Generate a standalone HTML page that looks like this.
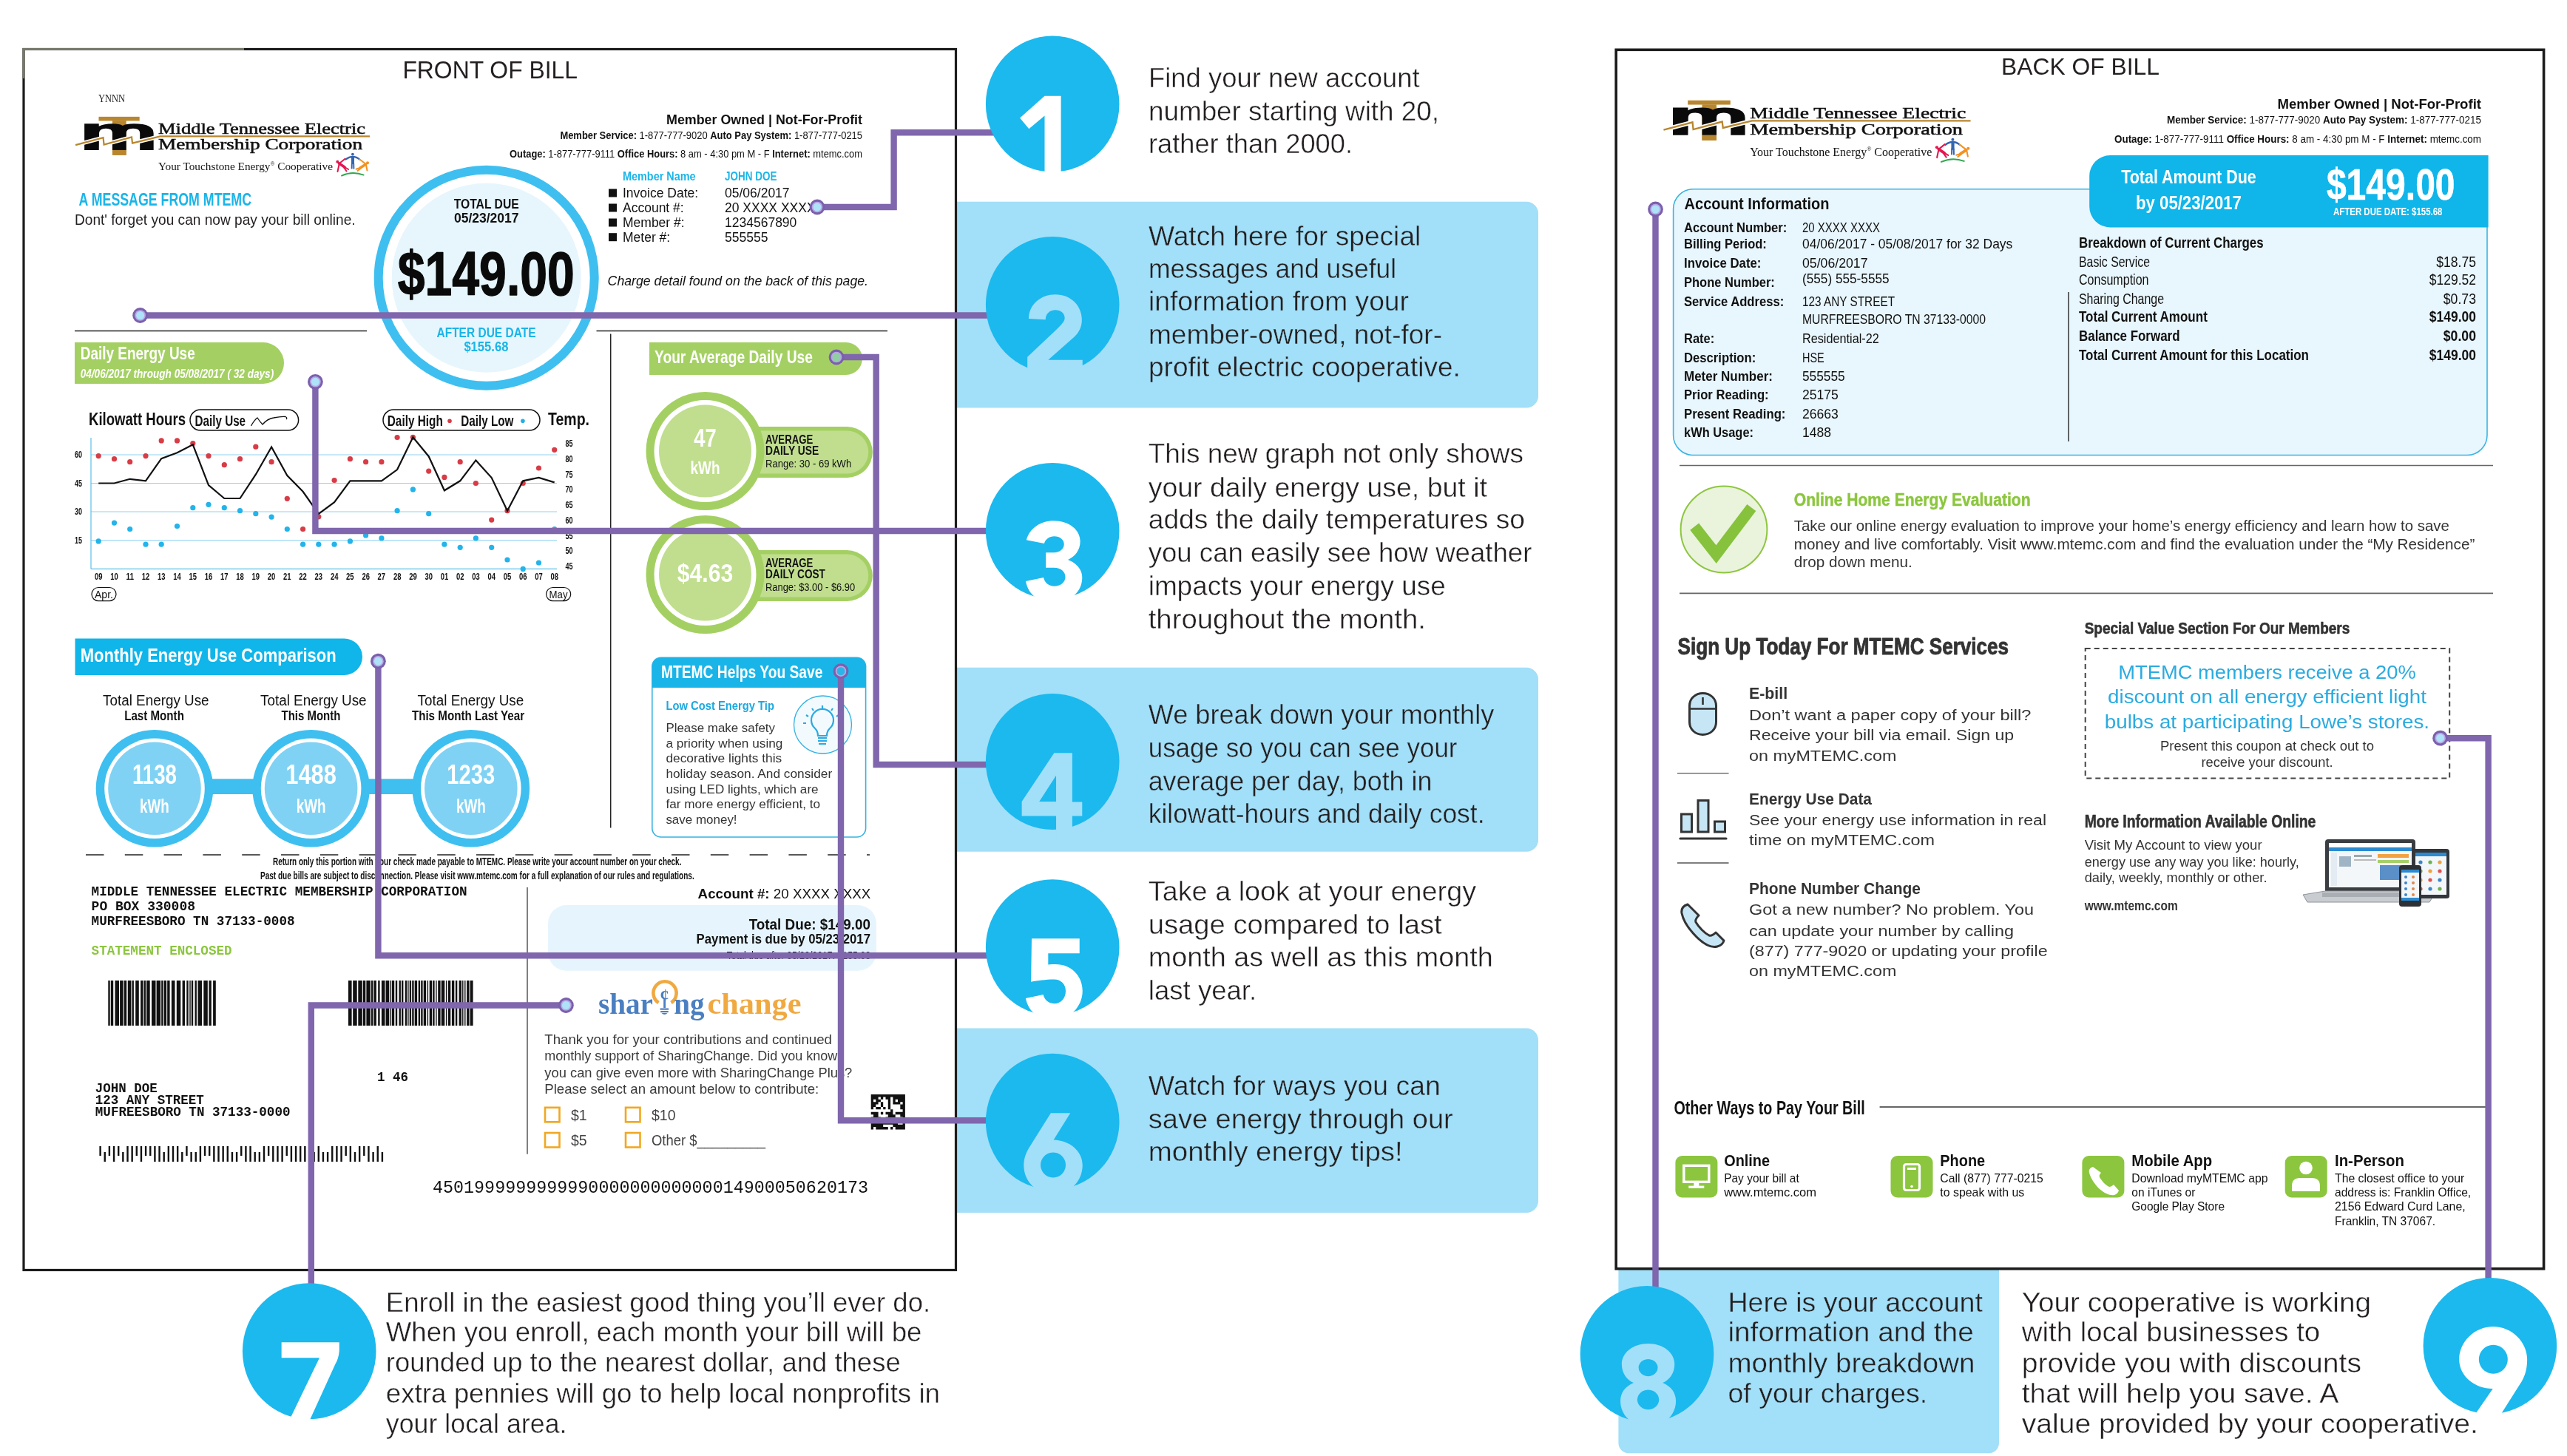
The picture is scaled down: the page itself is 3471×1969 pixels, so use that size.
<!DOCTYPE html><html><head><meta charset="utf-8"><title>Bill Guide</title><style>html,body{margin:0;padding:0;background:#fff;}svg{display:block;will-change:transform;}</style></head><body>
<svg width="3471" height="1969" viewBox="0 0 3471 1969">
<rect x="0.0" y="0.0" width="3471.0" height="1969.0" fill="#ffffff"/>
<path d="M1292.5,272.8 L2064.0,272.8 A16,16 0 0 1 2080.0,288.8 L2080.0,535.4 A16,16 0 0 1 2064.0,551.4 L1292.5,551.4 L1292.5,272.8 Z" fill="#a2dff8"/>
<path d="M1292.5,902.7 L2064.0,902.7 A16,16 0 0 1 2080.0,918.7 L2080.0,1135.7 A16,16 0 0 1 2064.0,1151.7 L1292.5,1151.7 L1292.5,902.7 Z" fill="#a2dff8"/>
<path d="M1292.5,1390.6 L2064.0,1390.6 A16,16 0 0 1 2080.0,1406.6 L2080.0,1624.0 A16,16 0 0 1 2064.0,1640.0 L1292.5,1640.0 L1292.5,1390.6 Z" fill="#a2dff8"/>
<path d="M2188.4,1700 L2691.0,1700 A12,12 0 0 1 2703.0,1712 L2703.0,1951.3 A14,14 0 0 1 2689.0,1965.3 L2202.4,1965.3 A14,14 0 0 1 2188.4,1951.3 L2188.4,1700 Z" fill="#a2dff8"/>
<text x="1553.0" y="118.3" font-family="'Liberation Sans', sans-serif" font-size="37.5" fill="#231f20" textLength="366.6" lengthAdjust="spacingAndGlyphs" stroke="#ffffff" stroke-width="0.45">Find your new account</text>
<text x="1553.0" y="162.8" font-family="'Liberation Sans', sans-serif" font-size="37.5" fill="#231f20" textLength="393.0" lengthAdjust="spacingAndGlyphs" stroke="#ffffff" stroke-width="0.45">number starting with 20,</text>
<text x="1553.0" y="207.3" font-family="'Liberation Sans', sans-serif" font-size="37.5" fill="#231f20" textLength="276.0" lengthAdjust="spacingAndGlyphs" stroke="#ffffff" stroke-width="0.45">rather than 2000.</text>
<text x="1553.0" y="331.7" font-family="'Liberation Sans', sans-serif" font-size="37.5" fill="#231f20" textLength="368.3" lengthAdjust="spacingAndGlyphs" stroke="#a2dff8" stroke-width="0.45">Watch here for special</text>
<text x="1553.0" y="375.8" font-family="'Liberation Sans', sans-serif" font-size="37.5" fill="#231f20" textLength="335.1" lengthAdjust="spacingAndGlyphs" stroke="#a2dff8" stroke-width="0.45">messages and useful</text>
<text x="1553.0" y="420.3" font-family="'Liberation Sans', sans-serif" font-size="37.5" fill="#231f20" textLength="352.0" lengthAdjust="spacingAndGlyphs" stroke="#a2dff8" stroke-width="0.45">information from your</text>
<text x="1553.0" y="464.8" font-family="'Liberation Sans', sans-serif" font-size="37.5" fill="#231f20" textLength="397.0" lengthAdjust="spacingAndGlyphs" stroke="#a2dff8" stroke-width="0.45">member-owned, not-for-</text>
<text x="1553.0" y="508.9" font-family="'Liberation Sans', sans-serif" font-size="37.5" fill="#231f20" textLength="421.8" lengthAdjust="spacingAndGlyphs" stroke="#a2dff8" stroke-width="0.45">profit electric cooperative.</text>
<text x="1552.7" y="626.0" font-family="'Liberation Sans', sans-serif" font-size="37.5" fill="#231f20" textLength="507.2" lengthAdjust="spacingAndGlyphs" stroke="#ffffff" stroke-width="0.45">This new graph not only shows</text>
<text x="1552.7" y="671.5" font-family="'Liberation Sans', sans-serif" font-size="37.5" fill="#231f20" textLength="458.2" lengthAdjust="spacingAndGlyphs" stroke="#ffffff" stroke-width="0.45">your daily energy use, but it</text>
<text x="1552.7" y="715.4" font-family="'Liberation Sans', sans-serif" font-size="37.5" fill="#231f20" textLength="509.3" lengthAdjust="spacingAndGlyphs" stroke="#ffffff" stroke-width="0.45">adds the daily temperatures so</text>
<text x="1552.7" y="760.0" font-family="'Liberation Sans', sans-serif" font-size="37.5" fill="#231f20" textLength="518.7" lengthAdjust="spacingAndGlyphs" stroke="#ffffff" stroke-width="0.45">you can easily see how weather</text>
<text x="1552.7" y="804.8" font-family="'Liberation Sans', sans-serif" font-size="37.5" fill="#231f20" textLength="402.0" lengthAdjust="spacingAndGlyphs" stroke="#ffffff" stroke-width="0.45">impacts your energy use</text>
<text x="1552.7" y="849.5" font-family="'Liberation Sans', sans-serif" font-size="37.5" fill="#231f20" textLength="375.2" lengthAdjust="spacingAndGlyphs" stroke="#ffffff" stroke-width="0.45">throughout the month.</text>
<text x="1552.7" y="979.3" font-family="'Liberation Sans', sans-serif" font-size="37.5" fill="#231f20" textLength="467.6" lengthAdjust="spacingAndGlyphs" stroke="#a2dff8" stroke-width="0.45">We break down your monthly</text>
<text x="1552.7" y="1024.0" font-family="'Liberation Sans', sans-serif" font-size="37.5" fill="#231f20" textLength="417.8" lengthAdjust="spacingAndGlyphs" stroke="#a2dff8" stroke-width="0.45">usage so you can see your</text>
<text x="1552.7" y="1068.7" font-family="'Liberation Sans', sans-serif" font-size="37.5" fill="#231f20" textLength="383.7" lengthAdjust="spacingAndGlyphs" stroke="#a2dff8" stroke-width="0.45">average per day, both in</text>
<text x="1552.7" y="1113.4" font-family="'Liberation Sans', sans-serif" font-size="37.5" fill="#231f20" textLength="454.8" lengthAdjust="spacingAndGlyphs" stroke="#a2dff8" stroke-width="0.45">kilowatt-hours and daily cost.</text>
<text x="1552.8" y="1218.0" font-family="'Liberation Sans', sans-serif" font-size="37.5" fill="#231f20" textLength="443.3" lengthAdjust="spacingAndGlyphs" stroke="#ffffff" stroke-width="0.45">Take a look at your energy</text>
<text x="1552.8" y="1262.6" font-family="'Liberation Sans', sans-serif" font-size="37.5" fill="#231f20" textLength="396.8" lengthAdjust="spacingAndGlyphs" stroke="#ffffff" stroke-width="0.45">usage compared to last</text>
<text x="1552.8" y="1306.7" font-family="'Liberation Sans', sans-serif" font-size="37.5" fill="#231f20" textLength="465.9" lengthAdjust="spacingAndGlyphs" stroke="#ffffff" stroke-width="0.45">month as well as this month</text>
<text x="1552.8" y="1352.0" font-family="'Liberation Sans', sans-serif" font-size="37.5" fill="#231f20" textLength="146.4" lengthAdjust="spacingAndGlyphs" stroke="#ffffff" stroke-width="0.45">last year.</text>
<text x="1552.8" y="1480.5" font-family="'Liberation Sans', sans-serif" font-size="37.5" fill="#231f20" textLength="394.9" lengthAdjust="spacingAndGlyphs" stroke="#a2dff8" stroke-width="0.45">Watch for ways you can</text>
<text x="1552.8" y="1525.8" font-family="'Liberation Sans', sans-serif" font-size="37.5" fill="#231f20" textLength="411.9" lengthAdjust="spacingAndGlyphs" stroke="#a2dff8" stroke-width="0.45">save energy through our</text>
<text x="1552.8" y="1570.0" font-family="'Liberation Sans', sans-serif" font-size="37.5" fill="#231f20" textLength="343.9" lengthAdjust="spacingAndGlyphs" stroke="#a2dff8" stroke-width="0.45">monthly energy tips!</text>
<text x="521.8" y="1773.5" font-family="'Liberation Sans', sans-serif" font-size="37.5" fill="#231f20" textLength="736.4" lengthAdjust="spacingAndGlyphs" stroke="#ffffff" stroke-width="0.45">Enroll in the easiest good thing you’ll ever do.</text>
<text x="521.8" y="1813.6" font-family="'Liberation Sans', sans-serif" font-size="37.5" fill="#231f20" textLength="724.7" lengthAdjust="spacingAndGlyphs" stroke="#ffffff" stroke-width="0.45">When you enroll, each month your bill will be</text>
<text x="521.8" y="1855.3" font-family="'Liberation Sans', sans-serif" font-size="37.5" fill="#231f20" textLength="695.9" lengthAdjust="spacingAndGlyphs" stroke="#ffffff" stroke-width="0.45">rounded up to the nearest dollar, and these</text>
<text x="521.8" y="1897.0" font-family="'Liberation Sans', sans-serif" font-size="37.5" fill="#231f20" textLength="749.2" lengthAdjust="spacingAndGlyphs" stroke="#ffffff" stroke-width="0.45">extra pennies will go to help local nonprofits in</text>
<text x="521.8" y="1938.3" font-family="'Liberation Sans', sans-serif" font-size="37.5" fill="#231f20" textLength="244.7" lengthAdjust="spacingAndGlyphs" stroke="#ffffff" stroke-width="0.45">your local area.</text>
<text x="2336.4" y="1773.7" font-family="'Liberation Sans', sans-serif" font-size="37.5" fill="#231f20" textLength="344.5" lengthAdjust="spacingAndGlyphs" stroke="#a2dff8" stroke-width="0.45">Here is your account</text>
<text x="2336.4" y="1814.2" font-family="'Liberation Sans', sans-serif" font-size="37.5" fill="#231f20" textLength="332.4" lengthAdjust="spacingAndGlyphs" stroke="#a2dff8" stroke-width="0.45">information and the</text>
<text x="2336.4" y="1856.3" font-family="'Liberation Sans', sans-serif" font-size="37.5" fill="#231f20" textLength="334.0" lengthAdjust="spacingAndGlyphs" stroke="#a2dff8" stroke-width="0.45">monthly breakdown</text>
<text x="2336.4" y="1896.8" font-family="'Liberation Sans', sans-serif" font-size="37.5" fill="#231f20" textLength="269.8" lengthAdjust="spacingAndGlyphs" stroke="#a2dff8" stroke-width="0.45">of your charges.</text>
<text x="2733.7" y="1773.7" font-family="'Liberation Sans', sans-serif" font-size="37.5" fill="#231f20" textLength="472.4" lengthAdjust="spacingAndGlyphs" stroke="#ffffff" stroke-width="0.45">Your cooperative is working</text>
<text x="2733.7" y="1814.2" font-family="'Liberation Sans', sans-serif" font-size="37.5" fill="#231f20" textLength="403.5" lengthAdjust="spacingAndGlyphs" stroke="#ffffff" stroke-width="0.45">with local businesses to</text>
<text x="2733.7" y="1856.3" font-family="'Liberation Sans', sans-serif" font-size="37.5" fill="#231f20" textLength="459.3" lengthAdjust="spacingAndGlyphs" stroke="#ffffff" stroke-width="0.45">provide you with discounts</text>
<text x="2733.7" y="1896.8" font-family="'Liberation Sans', sans-serif" font-size="37.5" fill="#231f20" textLength="428.7" lengthAdjust="spacingAndGlyphs" stroke="#ffffff" stroke-width="0.45">that will help you save. A</text>
<text x="2733.7" y="1937.9" font-family="'Liberation Sans', sans-serif" font-size="37.5" fill="#231f20" textLength="617.2" lengthAdjust="spacingAndGlyphs" stroke="#ffffff" stroke-width="0.45">value provided by your cooperative.</text>
<rect x="32.0" y="66.5" width="1260.5" height="1651.0" fill="none" stroke="#1c1c1c" stroke-width="3.2"/>
<line x1="31.0" y1="66.5" x2="330.0" y2="66.5" stroke="#77796c" stroke-width="3.2"/>
<line x1="32.0" y1="65.0" x2="32.0" y2="106.0" stroke="#77796c" stroke-width="3.2"/>
<text x="544.4" y="106.3" font-family="'Liberation Sans', sans-serif" font-size="33.5" fill="#231f20" textLength="236.6" lengthAdjust="spacingAndGlyphs">FRONT OF BILL</text>
<text x="133.0" y="137.5" font-family="'Liberation Serif', serif" font-size="14" fill="#222" textLength="36.0" lengthAdjust="spacingAndGlyphs">YNNN</text>
<g id="mtlogo"><rect x="133.48" y="157.85" width="55.19" height="5.57" fill="#b8862e"/><rect x="151.96" y="163.16" width="18.73" height="46.58" fill="#b8862e"/><path d="M114.14,167.22 L133.73,167.22 L133.73,170.76 Q140.57,167.22 151.71,167.22 Q162.34,167.22 165.89,170.00 Q169.94,167.22 181.08,167.22 Q207.66,167.22 207.66,180.38 L207.66,202.91 L189.18,202.91 L189.18,179.87 Q189.18,173.80 180.06,173.80 Q170.70,173.80 170.70,179.87 L170.70,202.91 L151.96,202.91 L151.96,179.87 Q151.96,173.80 143.10,173.80 Q134.49,173.80 133.99,179.87 L133.73,202.91 L114.14,202.91 Z" fill="#0a0a0a"/><path d="M102.09,196.08 L139.56,186.20 L140.57,195.57 L178.04,185.44 L179.05,193.54 L216.52,184.43 L500.06,184.43" fill="none" stroke="#fff" stroke-width="5.5" stroke-linejoin="miter"/><path d="M102.09,196.08 L139.56,186.20 L140.57,195.57 L178.04,185.44 L179.05,193.54 L216.52,184.43 L500.06,184.43" fill="none" stroke="#b8862e" stroke-width="2.2" stroke-linejoin="miter"/><rect x="151.96" y="202.91" width="18.73" height="6.84" fill="#b8862e"/><text x="214" y="181" font-family="'Liberation Serif', serif" font-size="21" fill="#111" stroke="#111" stroke-width="0.55" textLength="280" lengthAdjust="spacingAndGlyphs">Middle Tennessee Electric</text><text x="214" y="202.3" font-family="'Liberation Serif', serif" font-size="21" fill="#111" stroke="#111" stroke-width="0.55" textLength="276" lengthAdjust="spacingAndGlyphs">Membership Corporation</text><text x="214" y="229.6" font-family="'Liberation Serif', serif" font-size="15.5" fill="#111" textLength="236" lengthAdjust="spacingAndGlyphs">Your Touchstone Energy<tspan font-size="8" dy="-6">®</tspan><tspan dy="6"> Cooperative</tspan></text><circle cx="476.9" cy="208.6" r="1.9" fill="#3465b0"/><path d="M467.3,215.6 Q472,211.8 476.9,211.8 Q482,211.8 486.2,215.6" stroke="#3465b0" stroke-width="2.2" fill="none" stroke-linecap="round"/><rect x="475" y="211.5" width="4" height="10.5" fill="#3465b0"/><path d="M475.8,221 L475.6,227.6 M478.2,221 L478.4,227.8" stroke="#3465b0" stroke-width="1.9" fill="none" stroke-linecap="round"/><circle cx="456.3" cy="218.7" r="2" fill="#e3174f"/><path d="M458.5,221 L466,226" stroke="#e3174f" stroke-width="3.6" fill="none" stroke-linecap="round"/><path d="M466,226 L471,229 M465,226.5 L468.5,231.5 M459.5,220.5 L466.6,214.8 M458.5,222.5 L456.5,232" stroke="#e3174f" stroke-width="2" fill="none" stroke-linecap="round"/><circle cx="497" cy="220.2" r="2" fill="#f39220"/><path d="M494.5,222.2 L487,227" stroke="#f39220" stroke-width="3.6" fill="none" stroke-linecap="round"/><path d="M487,227 L481.5,228.8 M488,227.5 L483.5,231 M493.5,221 L486,215.3 M495,223 L496.5,230.5" stroke="#f39220" stroke-width="2" fill="none" stroke-linecap="round"/><path d="M462,237.6 Q476.5,231 491.6,236.6" stroke="#2fa84f" stroke-width="1.9" fill="none" stroke-linecap="round"/></g>
<text x="106.6" y="278.0" font-family="'Liberation Sans', sans-serif" font-size="23.5" fill="#1ab5e8" font-weight="bold" textLength="233.4" lengthAdjust="spacingAndGlyphs">A MESSAGE FROM MTEMC</text>
<text x="101.0" y="303.5" font-family="'Liberation Sans', sans-serif" font-size="20" fill="#231f20" textLength="379.6" lengthAdjust="spacingAndGlyphs">Dont' forget you can now pay your bill online.</text>
<text x="901.0" y="168.4" font-family="'Liberation Sans', sans-serif" font-size="18" fill="#111" font-weight="bold" textLength="265.0" lengthAdjust="spacingAndGlyphs">Member Owned | Not-For-Profit</text>
<text x="757.4" y="188.0" font-family="'Liberation Sans', sans-serif" font-size="14.8" fill="#111" textLength="408.6" lengthAdjust="spacingAndGlyphs"><tspan font-weight="bold">Member Service: </tspan><tspan font-weight="normal">1-877-777-9020 </tspan><tspan font-weight="bold">Auto Pay System: </tspan><tspan font-weight="normal">1-877-777-0215</tspan></text>
<text x="689.0" y="213.0" font-family="'Liberation Sans', sans-serif" font-size="14.8" fill="#111" textLength="477.0" lengthAdjust="spacingAndGlyphs"><tspan font-weight="bold">Outage: </tspan><tspan font-weight="normal">1-877-777-9111 </tspan><tspan font-weight="bold">Office Hours: </tspan><tspan font-weight="normal">8 am - 4:30 pm M - F </tspan><tspan font-weight="bold">Internet: </tspan><tspan font-weight="normal">mtemc.com</tspan></text>
<text x="842.0" y="244.0" font-family="'Liberation Sans', sans-serif" font-size="17" fill="#1ab5e8" font-weight="bold" textLength="98.5" lengthAdjust="spacingAndGlyphs">Member Name</text>
<text x="980.0" y="244.0" font-family="'Liberation Sans', sans-serif" font-size="17" fill="#1ab5e8" font-weight="bold" textLength="70.4" lengthAdjust="spacingAndGlyphs">JOHN DOE</text>
<rect x="823.0" y="255.5" width="11.0" height="11.0" fill="#111"/>
<text x="842.0" y="267.0" font-family="'Liberation Sans', sans-serif" font-size="17.5" fill="#111">Invoice Date:</text>
<text x="980.0" y="267.0" font-family="'Liberation Sans', sans-serif" font-size="17.5" fill="#111">05/06/2017</text>
<rect x="823.0" y="275.5" width="11.0" height="11.0" fill="#111"/>
<text x="842.0" y="287.0" font-family="'Liberation Sans', sans-serif" font-size="17.5" fill="#111">Account #:</text>
<text x="980.0" y="287.0" font-family="'Liberation Sans', sans-serif" font-size="17.5" fill="#111">20 XXXX XXXX</text>
<rect x="823.0" y="295.5" width="11.0" height="11.0" fill="#111"/>
<text x="842.0" y="307.0" font-family="'Liberation Sans', sans-serif" font-size="17.5" fill="#111">Member #:</text>
<text x="980.0" y="307.0" font-family="'Liberation Sans', sans-serif" font-size="17.5" fill="#111">1234567890</text>
<rect x="823.0" y="315.2" width="11.0" height="11.0" fill="#111"/>
<text x="842.0" y="326.7" font-family="'Liberation Sans', sans-serif" font-size="17.5" fill="#111">Meter #:</text>
<text x="980.0" y="326.7" font-family="'Liberation Sans', sans-serif" font-size="17.5" fill="#111">555555</text>
<text x="821.6" y="386.0" font-family="'Liberation Sans', sans-serif" font-size="19" fill="#111" font-style="italic" textLength="352.4" lengthAdjust="spacingAndGlyphs">Charge detail found on the back of this page.</text>
<line x1="101.0" y1="447.4" x2="496.0" y2="447.4" stroke="#222" stroke-width="1.5"/>
<line x1="806.5" y1="447.4" x2="1200.0" y2="447.4" stroke="#222" stroke-width="1.5"/>
<line x1="825.7" y1="451.5" x2="825.7" y2="1119.6" stroke="#222" stroke-width="1.5"/>
<circle cx="657.7" cy="375.7" r="146.0" fill="#ffffff" stroke="#3ebff0" stroke-width="12"/>
<circle cx="657.7" cy="375.7" r="128.0" fill="#e7f6fd"/>
<text x="613.7" y="282.0" font-family="'Liberation Sans', sans-serif" font-size="19" fill="#111" font-weight="bold" textLength="88.0" lengthAdjust="spacingAndGlyphs">TOTAL DUE</text>
<text x="613.9" y="301.0" font-family="'Liberation Sans', sans-serif" font-size="19" fill="#111" font-weight="bold" textLength="87.7" lengthAdjust="spacingAndGlyphs">05/23/2017</text>
<text x="537.8" y="398.6" font-family="'Liberation Sans', sans-serif" font-size="84" fill="#0a0a0a" font-weight="bold" textLength="239.0" lengthAdjust="spacingAndGlyphs" stroke="#0a0a0a" stroke-width="1.4" stroke-linejoin="round">$149.00</text>
<text x="590.5" y="456.4" font-family="'Liberation Sans', sans-serif" font-size="19" fill="#1ab5e8" font-weight="bold" textLength="134.0" lengthAdjust="spacingAndGlyphs">AFTER DUE DATE</text>
<text x="627.4" y="475.0" font-family="'Liberation Sans', sans-serif" font-size="19" fill="#1ab5e8" font-weight="bold" textLength="60.0" lengthAdjust="spacingAndGlyphs">$155.68</text>
<path d="M101,463 L356,463 A28,28 0 0 1 384,491 L384,491 A28,28 0 0 1 356,519 L101,519 Z" fill="#a4d063"/>
<text x="108.7" y="486.0" font-family="'Liberation Sans', sans-serif" font-size="23" fill="#fff" font-weight="bold" textLength="155.0" lengthAdjust="spacingAndGlyphs">Daily Energy Use</text>
<text x="108.7" y="510.5" font-family="'Liberation Sans', sans-serif" font-size="16.8" fill="#fff" font-weight="bold" font-style="italic" textLength="261.5" lengthAdjust="spacingAndGlyphs">04/06/2017 through 05/08/2017 ( 32 days)</text>
<text x="120.0" y="574.5" font-family="'Liberation Sans', sans-serif" font-size="23" fill="#111" font-weight="bold" textLength="131.0" lengthAdjust="spacingAndGlyphs">Kilowatt Hours</text>
<rect x="257.0" y="554.0" width="146.6" height="28.0" fill="none" stroke="#111" stroke-width="1.5" rx="14"/>
<text x="263.5" y="576.0" font-family="'Liberation Sans', sans-serif" font-size="19.5" fill="#111" font-weight="bold" textLength="68.6" lengthAdjust="spacingAndGlyphs">Daily Use</text>
<path d="M339.4,576 Q344,568 348,565 Q352,571 355,574 Q362,566 370,565 Q380,563 386,563.5 Q389,565 387,567" fill="none" stroke="#111" stroke-width="1.3"/>
<rect x="518.0" y="554.0" width="212.0" height="28.0" fill="none" stroke="#111" stroke-width="1.5" rx="14"/>
<text x="523.8" y="576.0" font-family="'Liberation Sans', sans-serif" font-size="19.5" fill="#111" font-weight="bold" textLength="75.0" lengthAdjust="spacingAndGlyphs">Daily High</text>
<circle cx="608.0" cy="569.3" r="2.8" fill="#d93a45"/>
<text x="623.3" y="576.0" font-family="'Liberation Sans', sans-serif" font-size="19.5" fill="#111" font-weight="bold" textLength="71.2" lengthAdjust="spacingAndGlyphs">Daily Low</text>
<circle cx="706.9" cy="569.3" r="2.8" fill="#1fb0e8"/>
<text x="741.0" y="574.5" font-family="'Liberation Sans', sans-serif" font-size="23" fill="#111" font-weight="bold" textLength="56.0" lengthAdjust="spacingAndGlyphs">Temp.</text>
<line x1="123.0" y1="615.0" x2="753.0" y2="615.0" stroke="#8fd3f2" stroke-width="1.1"/>
<line x1="123.0" y1="653.5" x2="753.0" y2="653.5" stroke="#8fd3f2" stroke-width="1.1"/>
<line x1="123.0" y1="692.0" x2="753.0" y2="692.0" stroke="#8fd3f2" stroke-width="1.1"/>
<line x1="123.0" y1="730.5" x2="753.0" y2="730.5" stroke="#8fd3f2" stroke-width="1.1"/>
<line x1="123.0" y1="592.0" x2="123.0" y2="769.4" stroke="#5cc0ea" stroke-width="1.2"/>
<line x1="123.0" y1="769.4" x2="753.0" y2="769.4" stroke="#5cc0ea" stroke-width="1.2"/>
<text x="101.0" y="619.0" font-family="'Liberation Sans', sans-serif" font-size="12" fill="#111" font-weight="bold" textLength="10.0" lengthAdjust="spacingAndGlyphs">60</text>
<text x="101.0" y="657.5" font-family="'Liberation Sans', sans-serif" font-size="12" fill="#111" font-weight="bold" textLength="10.0" lengthAdjust="spacingAndGlyphs">45</text>
<text x="101.0" y="696.0" font-family="'Liberation Sans', sans-serif" font-size="12" fill="#111" font-weight="bold" textLength="10.0" lengthAdjust="spacingAndGlyphs">30</text>
<text x="101.0" y="734.5" font-family="'Liberation Sans', sans-serif" font-size="12" fill="#111" font-weight="bold" textLength="10.0" lengthAdjust="spacingAndGlyphs">15</text>
<text x="764.5" y="604.0" font-family="'Liberation Sans', sans-serif" font-size="12" fill="#111" font-weight="bold" textLength="10.0" lengthAdjust="spacingAndGlyphs">85</text>
<text x="764.5" y="624.8" font-family="'Liberation Sans', sans-serif" font-size="12" fill="#111" font-weight="bold" textLength="10.0" lengthAdjust="spacingAndGlyphs">80</text>
<text x="764.5" y="645.5" font-family="'Liberation Sans', sans-serif" font-size="12" fill="#111" font-weight="bold" textLength="10.0" lengthAdjust="spacingAndGlyphs">75</text>
<text x="764.5" y="666.2" font-family="'Liberation Sans', sans-serif" font-size="12" fill="#111" font-weight="bold" textLength="10.0" lengthAdjust="spacingAndGlyphs">70</text>
<text x="764.5" y="687.0" font-family="'Liberation Sans', sans-serif" font-size="12" fill="#111" font-weight="bold" textLength="10.0" lengthAdjust="spacingAndGlyphs">65</text>
<text x="764.5" y="707.8" font-family="'Liberation Sans', sans-serif" font-size="12" fill="#111" font-weight="bold" textLength="10.0" lengthAdjust="spacingAndGlyphs">60</text>
<text x="764.5" y="728.5" font-family="'Liberation Sans', sans-serif" font-size="12" fill="#111" font-weight="bold" textLength="10.0" lengthAdjust="spacingAndGlyphs">55</text>
<text x="764.5" y="749.2" font-family="'Liberation Sans', sans-serif" font-size="12" fill="#111" font-weight="bold" textLength="10.0" lengthAdjust="spacingAndGlyphs">50</text>
<text x="764.5" y="770.0" font-family="'Liberation Sans', sans-serif" font-size="12" fill="#111" font-weight="bold" textLength="10.0" lengthAdjust="spacingAndGlyphs">45</text>
<text x="127.9" y="784.0" font-family="'Liberation Sans', sans-serif" font-size="12" fill="#111" font-weight="bold" textLength="10.5" lengthAdjust="spacingAndGlyphs">09</text>
<text x="149.2" y="784.0" font-family="'Liberation Sans', sans-serif" font-size="12" fill="#111" font-weight="bold" textLength="10.5" lengthAdjust="spacingAndGlyphs">10</text>
<text x="170.5" y="784.0" font-family="'Liberation Sans', sans-serif" font-size="12" fill="#111" font-weight="bold" textLength="10.5" lengthAdjust="spacingAndGlyphs">11</text>
<text x="191.7" y="784.0" font-family="'Liberation Sans', sans-serif" font-size="12" fill="#111" font-weight="bold" textLength="10.5" lengthAdjust="spacingAndGlyphs">12</text>
<text x="213.0" y="784.0" font-family="'Liberation Sans', sans-serif" font-size="12" fill="#111" font-weight="bold" textLength="10.5" lengthAdjust="spacingAndGlyphs">13</text>
<text x="234.2" y="784.0" font-family="'Liberation Sans', sans-serif" font-size="12" fill="#111" font-weight="bold" textLength="10.5" lengthAdjust="spacingAndGlyphs">14</text>
<text x="255.5" y="784.0" font-family="'Liberation Sans', sans-serif" font-size="12" fill="#111" font-weight="bold" textLength="10.5" lengthAdjust="spacingAndGlyphs">15</text>
<text x="276.8" y="784.0" font-family="'Liberation Sans', sans-serif" font-size="12" fill="#111" font-weight="bold" textLength="10.5" lengthAdjust="spacingAndGlyphs">16</text>
<text x="298.0" y="784.0" font-family="'Liberation Sans', sans-serif" font-size="12" fill="#111" font-weight="bold" textLength="10.5" lengthAdjust="spacingAndGlyphs">17</text>
<text x="319.3" y="784.0" font-family="'Liberation Sans', sans-serif" font-size="12" fill="#111" font-weight="bold" textLength="10.5" lengthAdjust="spacingAndGlyphs">18</text>
<text x="340.6" y="784.0" font-family="'Liberation Sans', sans-serif" font-size="12" fill="#111" font-weight="bold" textLength="10.5" lengthAdjust="spacingAndGlyphs">19</text>
<text x="361.8" y="784.0" font-family="'Liberation Sans', sans-serif" font-size="12" fill="#111" font-weight="bold" textLength="10.5" lengthAdjust="spacingAndGlyphs">20</text>
<text x="383.1" y="784.0" font-family="'Liberation Sans', sans-serif" font-size="12" fill="#111" font-weight="bold" textLength="10.5" lengthAdjust="spacingAndGlyphs">21</text>
<text x="404.3" y="784.0" font-family="'Liberation Sans', sans-serif" font-size="12" fill="#111" font-weight="bold" textLength="10.5" lengthAdjust="spacingAndGlyphs">22</text>
<text x="425.6" y="784.0" font-family="'Liberation Sans', sans-serif" font-size="12" fill="#111" font-weight="bold" textLength="10.5" lengthAdjust="spacingAndGlyphs">23</text>
<text x="446.9" y="784.0" font-family="'Liberation Sans', sans-serif" font-size="12" fill="#111" font-weight="bold" textLength="10.5" lengthAdjust="spacingAndGlyphs">24</text>
<text x="468.1" y="784.0" font-family="'Liberation Sans', sans-serif" font-size="12" fill="#111" font-weight="bold" textLength="10.5" lengthAdjust="spacingAndGlyphs">25</text>
<text x="489.4" y="784.0" font-family="'Liberation Sans', sans-serif" font-size="12" fill="#111" font-weight="bold" textLength="10.5" lengthAdjust="spacingAndGlyphs">26</text>
<text x="510.6" y="784.0" font-family="'Liberation Sans', sans-serif" font-size="12" fill="#111" font-weight="bold" textLength="10.5" lengthAdjust="spacingAndGlyphs">27</text>
<text x="531.9" y="784.0" font-family="'Liberation Sans', sans-serif" font-size="12" fill="#111" font-weight="bold" textLength="10.5" lengthAdjust="spacingAndGlyphs">28</text>
<text x="553.2" y="784.0" font-family="'Liberation Sans', sans-serif" font-size="12" fill="#111" font-weight="bold" textLength="10.5" lengthAdjust="spacingAndGlyphs">29</text>
<text x="574.4" y="784.0" font-family="'Liberation Sans', sans-serif" font-size="12" fill="#111" font-weight="bold" textLength="10.5" lengthAdjust="spacingAndGlyphs">30</text>
<text x="595.7" y="784.0" font-family="'Liberation Sans', sans-serif" font-size="12" fill="#111" font-weight="bold" textLength="10.5" lengthAdjust="spacingAndGlyphs">01</text>
<text x="616.9" y="784.0" font-family="'Liberation Sans', sans-serif" font-size="12" fill="#111" font-weight="bold" textLength="10.5" lengthAdjust="spacingAndGlyphs">02</text>
<text x="638.2" y="784.0" font-family="'Liberation Sans', sans-serif" font-size="12" fill="#111" font-weight="bold" textLength="10.5" lengthAdjust="spacingAndGlyphs">03</text>
<text x="659.5" y="784.0" font-family="'Liberation Sans', sans-serif" font-size="12" fill="#111" font-weight="bold" textLength="10.5" lengthAdjust="spacingAndGlyphs">04</text>
<text x="680.7" y="784.0" font-family="'Liberation Sans', sans-serif" font-size="12" fill="#111" font-weight="bold" textLength="10.5" lengthAdjust="spacingAndGlyphs">05</text>
<text x="702.0" y="784.0" font-family="'Liberation Sans', sans-serif" font-size="12" fill="#111" font-weight="bold" textLength="10.5" lengthAdjust="spacingAndGlyphs">06</text>
<text x="723.2" y="784.0" font-family="'Liberation Sans', sans-serif" font-size="12" fill="#111" font-weight="bold" textLength="10.5" lengthAdjust="spacingAndGlyphs">07</text>
<text x="744.5" y="784.0" font-family="'Liberation Sans', sans-serif" font-size="12" fill="#111" font-weight="bold" textLength="10.5" lengthAdjust="spacingAndGlyphs">08</text>
<rect x="124.0" y="794.5" width="33.0" height="18.1" fill="none" stroke="#111" stroke-width="1.2" rx="9"/>
<text x="128.0" y="808.5" font-family="'Liberation Sans', sans-serif" font-size="14" fill="#111" textLength="25.0" lengthAdjust="spacingAndGlyphs">Apr.</text>
<rect x="738.6" y="794.5" width="33.1" height="18.1" fill="none" stroke="#111" stroke-width="1.2" rx="9"/>
<text x="742.6" y="808.5" font-family="'Liberation Sans', sans-serif" font-size="14" fill="#111" textLength="25.0" lengthAdjust="spacingAndGlyphs">May</text>
<circle cx="133.2" cy="616.6" r="3.6" fill="#d83c46"/>
<circle cx="133.2" cy="731.9" r="3.6" fill="#22b4ea"/>
<circle cx="154.5" cy="620.7" r="3.6" fill="#d83c46"/>
<circle cx="154.5" cy="707.1" r="3.6" fill="#22b4ea"/>
<circle cx="175.7" cy="624.7" r="3.6" fill="#d83c46"/>
<circle cx="175.7" cy="715.5" r="3.6" fill="#22b4ea"/>
<circle cx="197.0" cy="616.6" r="3.6" fill="#d83c46"/>
<circle cx="197.0" cy="736.2" r="3.6" fill="#22b4ea"/>
<circle cx="218.2" cy="595.9" r="3.6" fill="#d83c46"/>
<circle cx="218.2" cy="736.2" r="3.6" fill="#22b4ea"/>
<circle cx="239.5" cy="595.9" r="3.6" fill="#d83c46"/>
<circle cx="239.5" cy="711.5" r="3.6" fill="#22b4ea"/>
<circle cx="260.8" cy="599.6" r="3.6" fill="#d83c46"/>
<circle cx="260.8" cy="686.7" r="3.6" fill="#22b4ea"/>
<circle cx="282.0" cy="616.6" r="3.6" fill="#d83c46"/>
<circle cx="282.0" cy="682.3" r="3.6" fill="#22b4ea"/>
<circle cx="303.3" cy="628.7" r="3.6" fill="#d83c46"/>
<circle cx="303.3" cy="686.7" r="3.6" fill="#22b4ea"/>
<circle cx="324.5" cy="620.7" r="3.6" fill="#d83c46"/>
<circle cx="324.5" cy="690.7" r="3.6" fill="#22b4ea"/>
<circle cx="345.8" cy="604.2" r="3.6" fill="#d83c46"/>
<circle cx="345.8" cy="694.7" r="3.6" fill="#22b4ea"/>
<circle cx="367.1" cy="624.7" r="3.6" fill="#d83c46"/>
<circle cx="367.1" cy="699.1" r="3.6" fill="#22b4ea"/>
<circle cx="388.3" cy="674.3" r="3.6" fill="#d83c46"/>
<circle cx="388.3" cy="715.5" r="3.6" fill="#22b4ea"/>
<circle cx="409.6" cy="715.5" r="3.6" fill="#d83c46"/>
<circle cx="409.6" cy="736.2" r="3.6" fill="#22b4ea"/>
<circle cx="430.8" cy="698.8" r="3.6" fill="#d83c46"/>
<circle cx="430.8" cy="736.2" r="3.6" fill="#22b4ea"/>
<circle cx="452.1" cy="649.5" r="3.6" fill="#d83c46"/>
<circle cx="452.1" cy="736.2" r="3.6" fill="#22b4ea"/>
<circle cx="473.4" cy="620.7" r="3.6" fill="#d83c46"/>
<circle cx="473.4" cy="731.9" r="3.6" fill="#22b4ea"/>
<circle cx="494.6" cy="624.7" r="3.6" fill="#d83c46"/>
<circle cx="494.6" cy="723.9" r="3.6" fill="#22b4ea"/>
<circle cx="515.9" cy="624.7" r="3.6" fill="#d83c46"/>
<circle cx="515.9" cy="727.9" r="3.6" fill="#22b4ea"/>
<circle cx="537.1" cy="591.5" r="3.6" fill="#d83c46"/>
<circle cx="537.1" cy="690.7" r="3.6" fill="#22b4ea"/>
<circle cx="558.4" cy="591.3" r="3.6" fill="#d83c46"/>
<circle cx="558.4" cy="661.9" r="3.6" fill="#22b4ea"/>
<circle cx="579.7" cy="637.1" r="3.6" fill="#d83c46"/>
<circle cx="579.7" cy="694.7" r="3.6" fill="#22b4ea"/>
<circle cx="600.9" cy="645.4" r="3.6" fill="#d83c46"/>
<circle cx="600.9" cy="736.2" r="3.6" fill="#22b4ea"/>
<circle cx="622.2" cy="624.7" r="3.6" fill="#d83c46"/>
<circle cx="622.2" cy="740.3" r="3.6" fill="#22b4ea"/>
<circle cx="643.4" cy="653.5" r="3.6" fill="#d83c46"/>
<circle cx="643.4" cy="727.9" r="3.6" fill="#22b4ea"/>
<circle cx="664.7" cy="703.1" r="3.6" fill="#d83c46"/>
<circle cx="664.7" cy="740.3" r="3.6" fill="#22b4ea"/>
<circle cx="686.0" cy="690.7" r="3.6" fill="#d83c46"/>
<circle cx="686.0" cy="757.0" r="3.6" fill="#22b4ea"/>
<circle cx="707.2" cy="653.5" r="3.6" fill="#d83c46"/>
<circle cx="707.2" cy="769.4" r="3.6" fill="#22b4ea"/>
<circle cx="728.5" cy="633.0" r="3.6" fill="#d83c46"/>
<circle cx="728.5" cy="761.0" r="3.6" fill="#22b4ea"/>
<circle cx="749.7" cy="608.3" r="3.6" fill="#d83c46"/>
<circle cx="749.7" cy="715.5" r="3.6" fill="#22b4ea"/>
<polyline points="133.2,653.5 154.5,653.5 175.7,647.8 197.0,650.3 218.2,620.1 239.5,612.3 260.8,601.3 282.0,656.1 303.3,674.0 324.5,674.0 345.8,641.7 367.1,604.5 388.3,643.1 409.6,664.8 430.8,695.0 452.1,679.2 473.4,650.3 494.6,650.3 515.9,650.3 537.1,635.1 558.4,591.3 579.7,617.2 600.9,663.3 622.2,650.3 643.4,622.4 664.7,646.0 686.0,690.7 707.2,650.3 728.5,646.0 749.7,652.4" fill="none" stroke="#111" stroke-width="2.2" stroke-linejoin="miter"/>
<path d="M878,463 L1144,463 A22,22 0 0 1 1166,485 L1166,485 A22,22 0 0 1 1144,507 L878,507 Z" fill="#a4d063"/>
<text x="885.0" y="491.0" font-family="'Liberation Sans', sans-serif" font-size="24.4" fill="#fff" font-weight="bold" textLength="214.0" lengthAdjust="spacingAndGlyphs">Your Average Daily Use</text>
<path d="M960,577 L1145.3,577 A34.5,34.5 0 0 1 1179.8,611.5 L1179.8,611.5 A34.5,34.5 0 0 1 1145.3,646 L960,646 L960,577 Z" fill="#a4d063"/>
<path d="M960,582.5 L1145.3,582.5 A29,29 0 0 1 1174.3,611.5 L1174.3,611.5 A29,29 0 0 1 1145.3,640.5 L960,640.5 L960,582.5 Z" fill="#c0de8e"/>
<circle cx="953.5" cy="610.0" r="80.0" fill="#a4d063"/>
<circle cx="953.5" cy="610.0" r="69.0" fill="#ffffff"/>
<circle cx="953.5" cy="610.0" r="62.5" fill="#c0de8e"/>
<text x="938.3" y="604.0" font-family="'Liberation Sans', sans-serif" font-size="35" fill="#fff" font-weight="bold" textLength="30.4" lengthAdjust="spacingAndGlyphs">47</text>
<text x="933.5" y="640.5" font-family="'Liberation Sans', sans-serif" font-size="23.5" fill="#fff" font-weight="bold" textLength="40.0" lengthAdjust="spacingAndGlyphs">kWh</text>
<text x="1035.0" y="600.0" font-family="'Liberation Sans', sans-serif" font-size="16.2" fill="#111" font-weight="bold" textLength="64.3" lengthAdjust="spacingAndGlyphs">AVERAGE</text>
<text x="1035.0" y="615.2" font-family="'Liberation Sans', sans-serif" font-size="16.2" fill="#111" font-weight="bold" textLength="72.2" lengthAdjust="spacingAndGlyphs">DAILY USE</text>
<text x="1035.0" y="631.6" font-family="'Liberation Sans', sans-serif" font-size="15.2" fill="#111" textLength="116.2" lengthAdjust="spacingAndGlyphs">Range: 30 - 69 kWh</text>
<path d="M960,744 L1145.3,744 A34.5,34.5 0 0 1 1179.8,778.5 L1179.8,778.5 A34.5,34.5 0 0 1 1145.3,813 L960,813 L960,744 Z" fill="#a4d063"/>
<path d="M960,749.5 L1145.3,749.5 A29,29 0 0 1 1174.3,778.5 L1174.3,778.5 A29,29 0 0 1 1145.3,807.5 L960,807.5 L960,749.5 Z" fill="#c0de8e"/>
<circle cx="953.5" cy="777.0" r="80.0" fill="#a4d063"/>
<circle cx="953.5" cy="777.0" r="69.0" fill="#ffffff"/>
<circle cx="953.5" cy="777.0" r="62.5" fill="#c0de8e"/>
<text x="915.8" y="786.8" font-family="'Liberation Sans', sans-serif" font-size="35" fill="#fff" font-weight="bold" textLength="75.4" lengthAdjust="spacingAndGlyphs">$4.63</text>
<text x="1035.0" y="767.0" font-family="'Liberation Sans', sans-serif" font-size="16.2" fill="#111" font-weight="bold" textLength="64.3" lengthAdjust="spacingAndGlyphs">AVERAGE</text>
<text x="1035.0" y="782.2" font-family="'Liberation Sans', sans-serif" font-size="16.2" fill="#111" font-weight="bold" textLength="80.9" lengthAdjust="spacingAndGlyphs">DAILY COST</text>
<text x="1035.0" y="798.6" font-family="'Liberation Sans', sans-serif" font-size="15.2" fill="#111" textLength="121.2" lengthAdjust="spacingAndGlyphs">Range: $3.00 - $6.90</text>
<path d="M101.5,863.6 L465.3,863.6 A24.7,24.7 0 0 1 490.0,888.3000000000001 L490.0,888.3 A24.7,24.7 0 0 1 465.3,913.0 L101.5,913.0 Z" fill="#10b5ea"/>
<text x="108.7" y="894.8" font-family="'Liberation Sans', sans-serif" font-size="26" fill="#fff" font-weight="bold" textLength="346.0" lengthAdjust="spacingAndGlyphs">Monthly Energy Use Comparison</text>
<rect x="209.0" y="1053.3" width="427.8" height="20.7" fill="#3ebff0"/>
<circle cx="209.0" cy="1066.3" r="79.3" fill="#3ebff0"/>
<circle cx="209.0" cy="1066.3" r="67.8" fill="#ffffff"/>
<circle cx="209.0" cy="1066.3" r="62.8" fill="#80d2f4"/>
<text x="179.0" y="1059.7" font-family="'Liberation Sans', sans-serif" font-size="37.7" fill="#fff" font-weight="bold" textLength="60.0" lengthAdjust="spacingAndGlyphs">1138</text>
<text x="189.1" y="1098.6" font-family="'Liberation Sans', sans-serif" font-size="25" fill="#fff" font-weight="bold" textLength="39.8" lengthAdjust="spacingAndGlyphs">kWh</text>
<text x="139.0" y="953.9" font-family="'Liberation Sans', sans-serif" font-size="20" fill="#111" textLength="143.6" lengthAdjust="spacingAndGlyphs">Total Energy Use</text>
<text x="168.2" y="974.0" font-family="'Liberation Sans', sans-serif" font-size="18.5" fill="#111" font-weight="bold" textLength="80.7" lengthAdjust="spacingAndGlyphs">Last Month</text>
<circle cx="420.6" cy="1066.3" r="79.3" fill="#3ebff0"/>
<circle cx="420.6" cy="1066.3" r="67.8" fill="#ffffff"/>
<circle cx="420.6" cy="1066.3" r="62.8" fill="#80d2f4"/>
<text x="386.3" y="1059.7" font-family="'Liberation Sans', sans-serif" font-size="37.7" fill="#fff" font-weight="bold" textLength="68.6" lengthAdjust="spacingAndGlyphs">1488</text>
<text x="400.7" y="1098.6" font-family="'Liberation Sans', sans-serif" font-size="25" fill="#fff" font-weight="bold" textLength="39.8" lengthAdjust="spacingAndGlyphs">kWh</text>
<text x="352.0" y="953.9" font-family="'Liberation Sans', sans-serif" font-size="20" fill="#111" textLength="143.6" lengthAdjust="spacingAndGlyphs">Total Energy Use</text>
<text x="380.5" y="974.0" font-family="'Liberation Sans', sans-serif" font-size="18.5" fill="#111" font-weight="bold" textLength="79.8" lengthAdjust="spacingAndGlyphs">This Month</text>
<circle cx="636.8" cy="1066.3" r="79.3" fill="#3ebff0"/>
<circle cx="636.8" cy="1066.3" r="67.8" fill="#ffffff"/>
<circle cx="636.8" cy="1066.3" r="62.8" fill="#80d2f4"/>
<text x="604.3" y="1059.7" font-family="'Liberation Sans', sans-serif" font-size="37.7" fill="#fff" font-weight="bold" textLength="64.9" lengthAdjust="spacingAndGlyphs">1233</text>
<text x="616.9" y="1098.6" font-family="'Liberation Sans', sans-serif" font-size="25" fill="#fff" font-weight="bold" textLength="39.8" lengthAdjust="spacingAndGlyphs">kWh</text>
<text x="564.6" y="953.9" font-family="'Liberation Sans', sans-serif" font-size="20" fill="#111" textLength="143.6" lengthAdjust="spacingAndGlyphs">Total Energy Use</text>
<text x="556.9" y="974.0" font-family="'Liberation Sans', sans-serif" font-size="18.5" fill="#111" font-weight="bold" textLength="152.2" lengthAdjust="spacingAndGlyphs">This Month Last Year</text>
<line x1="116.0" y1="1156.0" x2="1176.0" y2="1156.0" stroke="#222" stroke-width="1.5" stroke-dasharray="24.5 28.3"/>
<text x="369.0" y="1170.0" font-family="'Liberation Sans', sans-serif" font-size="14.5" fill="#111" font-weight="bold" textLength="552.4" lengthAdjust="spacingAndGlyphs">Return only this portion with your check made payable to MTEMC. Please write your account number on your check.</text>
<text x="352.0" y="1188.8" font-family="'Liberation Sans', sans-serif" font-size="14.5" fill="#111" font-weight="bold" textLength="586.7" lengthAdjust="spacingAndGlyphs">Past due bills are subject to disconnection. Please visit www.mtemc.com for a full explanation of our rules and regulations.</text>
<path d="M893.8,889.2 L1158.6,889.2 A12,12 0 0 1 1170.6,901.2 L1170.6,1120.0 A12,12 0 0 1 1158.6,1132.0 L893.8,1132.0 A12,12 0 0 1 881.8,1120.0 L881.8,901.2 A12,12 0 0 1 893.8,889.2 Z" fill="#ffffff" stroke="#35b2e2" stroke-width="1.6"/>
<path d="M893.8,889.2 L1158.6,889.2 A12,12 0 0 1 1170.6,901.2 L1170.6,930.0 L881.8,930.0 L881.8,901.2 A12,12 0 0 1 893.8,889.2 Z" fill="#1ab5e8"/>
<text x="894.0" y="917.4" font-family="'Liberation Sans', sans-serif" font-size="23" fill="#fff" font-weight="bold" textLength="218.4" lengthAdjust="spacingAndGlyphs">MTEMC Helps You Save</text>
<text x="900.4" y="960.0" font-family="'Liberation Sans', sans-serif" font-size="17.3" fill="#1ba9e0" font-weight="bold" textLength="146.6" lengthAdjust="spacingAndGlyphs">Low Cost Energy Tip</text>
<text x="900.4" y="989.8" font-family="'Liberation Sans', sans-serif" font-size="16.3" fill="#333" textLength="147.6" lengthAdjust="spacingAndGlyphs">Please make safety</text>
<text x="900.4" y="1010.8" font-family="'Liberation Sans', sans-serif" font-size="16.3" fill="#333" textLength="158.0" lengthAdjust="spacingAndGlyphs">a priority when using</text>
<text x="900.4" y="1031.4" font-family="'Liberation Sans', sans-serif" font-size="16.3" fill="#333" textLength="156.8" lengthAdjust="spacingAndGlyphs">decorative lights this</text>
<text x="900.4" y="1051.9" font-family="'Liberation Sans', sans-serif" font-size="16.3" fill="#333" textLength="224.8" lengthAdjust="spacingAndGlyphs">holiday season. And consider</text>
<text x="900.4" y="1072.7" font-family="'Liberation Sans', sans-serif" font-size="16.3" fill="#333" textLength="206.2" lengthAdjust="spacingAndGlyphs">using LED lights, which are</text>
<text x="900.4" y="1093.2" font-family="'Liberation Sans', sans-serif" font-size="16.3" fill="#333" textLength="208.7" lengthAdjust="spacingAndGlyphs">far more energy efficient, to</text>
<text x="900.4" y="1114.0" font-family="'Liberation Sans', sans-serif" font-size="16.3" fill="#333" textLength="96.2" lengthAdjust="spacingAndGlyphs">save money!</text>
<circle cx="1112.5" cy="980.0" r="39.0" fill="#f3fafd" stroke="#35b2e2" stroke-width="1.3"/>
<path d="M1112,985 m-10,0 a15,15 0 1 1 20,0 q-4,4 -4,10 l-12,0 q0,-6 -4,-10 z" fill="none" stroke="#29abe2" stroke-width="2.2"/>
<path d="M1106,998 l12,0 M1106,1002 l12,0 M1107,1006 l10,0" fill="none" stroke="#29abe2" stroke-width="2.2"/>
<path d="M1112,958 l0,-4 M1100,961 l-2,-3 M1124,961 l2,-3 M1093,969 l-3,-2 M1131,969 l3,-2 M1090,978 l-4,0" fill="none" stroke="#29abe2" stroke-width="2.2"/>
<text x="943.6" y="1214.8" font-family="'Liberation Sans', sans-serif" font-size="17.5" fill="#111" textLength="233.7" lengthAdjust="spacingAndGlyphs"><tspan font-weight="bold">Account #: </tspan><tspan font-weight="normal">20 XXXX XXXX</tspan></text>
<path d="M766,1224 L1160,1224 A25,25 0 0 1 1185,1249 L1185,1287.7 A25,25 0 0 1 1160,1312.7 L766,1312.7 A25,25 0 0 1 741,1287.7 L741,1249 A25,25 0 0 1 766,1224 Z" fill="#e6f5fd"/>
<text x="1012.7" y="1256.8" font-family="'Liberation Sans', sans-serif" font-size="21" fill="#111" font-weight="bold" textLength="164.3" lengthAdjust="spacingAndGlyphs">Total Due: $149.00</text>
<text x="941.6" y="1276.4" font-family="'Liberation Sans', sans-serif" font-size="18" fill="#111" font-weight="bold" textLength="235.4" lengthAdjust="spacingAndGlyphs">Payment is due by 05/23/2017</text>
<text x="982.7" y="1297.0" font-family="'Liberation Sans', sans-serif" font-size="14" fill="#111" textLength="194.3" lengthAdjust="spacingAndGlyphs">Total due after 05/23/2017: $155.68</text>
<text x="809.0" y="1371.4" font-family="'Liberation Serif', serif" font-size="40" fill="#4a7fc1" font-weight="bold" textLength="74.0" lengthAdjust="spacingAndGlyphs">shar</text>
<path d="M890.5,1356 A15.6,15.6 0 1 1 907.5,1356" fill="none" stroke="#f0a941" stroke-width="4.6"/>
<text x="898.6" y="1353.0" font-family="'Liberation Serif', serif" font-size="24" fill="#4a7fc1" font-weight="bold" text-anchor="middle">¢</text>
<rect x="897.2" y="1350.0" width="2.8" height="13.0" fill="#4a7fc1"/>
<rect x="892.6" y="1363.5" width="11.5" height="2.2" fill="#4a7fc1"/>
<rect x="893.2" y="1367.0" width="10.5" height="2.2" fill="#4a7fc1"/>
<path d="M894.5,1370 L902.5,1370 Q898.5,1374 894.5,1370 Z" fill="#4a7fc1"/>
<text x="911.3" y="1371.4" font-family="'Liberation Serif', serif" font-size="40" fill="#4a7fc1" font-weight="bold" textLength="41.2" lengthAdjust="spacingAndGlyphs">ng</text>
<text x="956.5" y="1371.4" font-family="'Liberation Serif', serif" font-size="40" fill="#f0a941" font-weight="bold" textLength="127.0" lengthAdjust="spacingAndGlyphs">change</text>
<text x="736.3" y="1412.2" font-family="'Liberation Sans', sans-serif" font-size="18.5" fill="#3a3a3a" textLength="388.6" lengthAdjust="spacingAndGlyphs">Thank you for your contributions and continued</text>
<text x="736.3" y="1434.3" font-family="'Liberation Sans', sans-serif" font-size="18.5" fill="#3a3a3a" textLength="396.0" lengthAdjust="spacingAndGlyphs">monthly support of SharingChange. Did you know</text>
<text x="736.3" y="1456.5" font-family="'Liberation Sans', sans-serif" font-size="18.5" fill="#3a3a3a" textLength="416.0" lengthAdjust="spacingAndGlyphs">you can give even more with SharingChange Plus?</text>
<text x="736.3" y="1478.6" font-family="'Liberation Sans', sans-serif" font-size="18.5" fill="#3a3a3a" textLength="371.0" lengthAdjust="spacingAndGlyphs">Please select an amount below to contribute:</text>
<rect x="737.0" y="1497.8" width="19.5" height="19.5" fill="none" stroke="#f0a820" stroke-width="2.6"/>
<rect x="737.0" y="1532.0" width="19.5" height="19.5" fill="none" stroke="#f0a820" stroke-width="2.6"/>
<rect x="846.0" y="1497.8" width="19.5" height="19.5" fill="none" stroke="#f0a820" stroke-width="2.6"/>
<rect x="846.0" y="1532.0" width="19.5" height="19.5" fill="none" stroke="#f0a820" stroke-width="2.6"/>
<text x="772.0" y="1515.0" font-family="'Liberation Sans', sans-serif" font-size="19.5" fill="#444">$1</text>
<text x="772.0" y="1549.0" font-family="'Liberation Sans', sans-serif" font-size="19.5" fill="#444">$5</text>
<text x="881.0" y="1515.0" font-family="'Liberation Sans', sans-serif" font-size="19.5" fill="#444">$10</text>
<text x="881.0" y="1549.0" font-family="'Liberation Sans', sans-serif" font-size="19.5" fill="#444" textLength="154.0" lengthAdjust="spacingAndGlyphs">Other $_________</text>
<path d="M1177.70,1480.00h3.30v3.39h-3.30zM1181.00,1480.00h3.30v3.39h-3.30zM1184.30,1480.00h3.30v3.39h-3.30zM1187.60,1480.00h3.30v3.39h-3.30zM1190.90,1480.00h3.30v3.39h-3.30zM1194.20,1480.00h3.30v3.39h-3.30zM1197.50,1480.00h3.30v3.39h-3.30zM1200.80,1480.00h3.30v3.39h-3.30zM1204.10,1480.00h3.30v3.39h-3.30zM1207.40,1480.00h3.30v3.39h-3.30zM1210.70,1480.00h3.30v3.39h-3.30zM1214.00,1480.00h3.30v3.39h-3.30zM1217.30,1480.00h3.30v3.39h-3.30zM1220.60,1480.00h3.30v3.39h-3.30zM1177.70,1483.39h3.30v3.39h-3.30zM1181.00,1483.39h3.30v3.39h-3.30zM1184.30,1483.39h3.30v3.39h-3.30zM1190.90,1483.39h3.30v3.39h-3.30zM1197.50,1483.39h3.30v3.39h-3.30zM1200.80,1483.39h3.30v3.39h-3.30zM1207.40,1483.39h3.30v3.39h-3.30zM1210.70,1483.39h3.30v3.39h-3.30zM1214.00,1483.39h3.30v3.39h-3.30zM1217.30,1483.39h3.30v3.39h-3.30zM1220.60,1483.39h3.30v3.39h-3.30zM1177.70,1486.79h3.30v3.39h-3.30zM1184.30,1486.79h3.30v3.39h-3.30zM1187.60,1486.79h3.30v3.39h-3.30zM1200.80,1486.79h3.30v3.39h-3.30zM1207.40,1486.79h3.30v3.39h-3.30zM1214.00,1486.79h3.30v3.39h-3.30zM1217.30,1486.79h3.30v3.39h-3.30zM1220.60,1486.79h3.30v3.39h-3.30zM1177.70,1490.18h3.30v3.39h-3.30zM1181.00,1490.18h3.30v3.39h-3.30zM1184.30,1490.18h3.30v3.39h-3.30zM1190.90,1490.18h3.30v3.39h-3.30zM1200.80,1490.18h3.30v3.39h-3.30zM1207.40,1490.18h3.30v3.39h-3.30zM1210.70,1490.18h3.30v3.39h-3.30zM1214.00,1490.18h3.30v3.39h-3.30zM1220.60,1490.18h3.30v3.39h-3.30zM1177.70,1493.57h3.30v3.39h-3.30zM1181.00,1493.57h3.30v3.39h-3.30zM1190.90,1493.57h3.30v3.39h-3.30zM1200.80,1493.57h3.30v3.39h-3.30zM1217.30,1493.57h3.30v3.39h-3.30zM1220.60,1493.57h3.30v3.39h-3.30zM1177.70,1496.96h3.30v3.39h-3.30zM1184.30,1496.96h3.30v3.39h-3.30zM1187.60,1496.96h3.30v3.39h-3.30zM1194.20,1496.96h3.30v3.39h-3.30zM1200.80,1496.96h3.30v3.39h-3.30zM1217.30,1496.96h3.30v3.39h-3.30zM1220.60,1496.96h3.30v3.39h-3.30zM1204.10,1500.36h3.30v3.39h-3.30zM1220.60,1500.36h3.30v3.39h-3.30zM1177.70,1503.75h3.30v3.39h-3.30zM1181.00,1503.75h3.30v3.39h-3.30zM1184.30,1503.75h3.30v3.39h-3.30zM1190.90,1503.75h3.30v3.39h-3.30zM1197.50,1503.75h3.30v3.39h-3.30zM1200.80,1503.75h3.30v3.39h-3.30zM1204.10,1503.75h3.30v3.39h-3.30zM1210.70,1503.75h3.30v3.39h-3.30zM1214.00,1503.75h3.30v3.39h-3.30zM1217.30,1503.75h3.30v3.39h-3.30zM1220.60,1503.75h3.30v3.39h-3.30zM1181.00,1507.14h3.30v3.39h-3.30zM1184.30,1507.14h3.30v3.39h-3.30zM1200.80,1507.14h3.30v3.39h-3.30zM1204.10,1507.14h3.30v3.39h-3.30zM1207.40,1507.14h3.30v3.39h-3.30zM1217.30,1507.14h3.30v3.39h-3.30zM1220.60,1507.14h3.30v3.39h-3.30zM1177.70,1510.54h3.30v3.39h-3.30zM1181.00,1510.54h3.30v3.39h-3.30zM1184.30,1510.54h3.30v3.39h-3.30zM1187.60,1510.54h3.30v3.39h-3.30zM1197.50,1510.54h3.30v3.39h-3.30zM1200.80,1510.54h3.30v3.39h-3.30zM1204.10,1510.54h3.30v3.39h-3.30zM1207.40,1510.54h3.30v3.39h-3.30zM1220.60,1510.54h3.30v3.39h-3.30zM1187.60,1513.93h3.30v3.39h-3.30zM1204.10,1513.93h3.30v3.39h-3.30zM1207.40,1513.93h3.30v3.39h-3.30zM1210.70,1513.93h3.30v3.39h-3.30zM1217.30,1513.93h3.30v3.39h-3.30zM1220.60,1513.93h3.30v3.39h-3.30zM1177.70,1517.32h3.30v3.39h-3.30zM1181.00,1517.32h3.30v3.39h-3.30zM1184.30,1517.32h3.30v3.39h-3.30zM1187.60,1517.32h3.30v3.39h-3.30zM1190.90,1517.32h3.30v3.39h-3.30zM1194.20,1517.32h3.30v3.39h-3.30zM1197.50,1517.32h3.30v3.39h-3.30zM1200.80,1517.32h3.30v3.39h-3.30zM1204.10,1517.32h3.30v3.39h-3.30zM1207.40,1517.32h3.30v3.39h-3.30zM1210.70,1517.32h3.30v3.39h-3.30zM1220.60,1517.32h3.30v3.39h-3.30zM1177.70,1520.71h3.30v3.39h-3.30zM1181.00,1520.71h3.30v3.39h-3.30zM1184.30,1520.71h3.30v3.39h-3.30zM1187.60,1520.71h3.30v3.39h-3.30zM1190.90,1520.71h3.30v3.39h-3.30zM1207.40,1520.71h3.30v3.39h-3.30zM1210.70,1520.71h3.30v3.39h-3.30zM1214.00,1520.71h3.30v3.39h-3.30zM1217.30,1520.71h3.30v3.39h-3.30zM1220.60,1520.71h3.30v3.39h-3.30zM1177.70,1524.11h3.30v3.39h-3.30zM1184.30,1524.11h3.30v3.39h-3.30zM1187.60,1524.11h3.30v3.39h-3.30zM1190.90,1524.11h3.30v3.39h-3.30zM1194.20,1524.11h3.30v3.39h-3.30zM1197.50,1524.11h3.30v3.39h-3.30zM1204.10,1524.11h3.30v3.39h-3.30zM1210.70,1524.11h3.30v3.39h-3.30zM1214.00,1524.11h3.30v3.39h-3.30zM1217.30,1524.11h3.30v3.39h-3.30zM1220.60,1524.11h3.30v3.39h-3.30z" fill="#111"/>
<text x="123.6" y="1211.0" font-family="'Liberation Mono', monospace" font-size="18" fill="#111" font-weight="bold" textLength="508.0" lengthAdjust="spacingAndGlyphs">MIDDLE TENNESSEE ELECTRIC MEMBERSHIP CORPORATION</text>
<text x="123.6" y="1231.0" font-family="'Liberation Mono', monospace" font-size="18" fill="#111" font-weight="bold" textLength="140.4" lengthAdjust="spacingAndGlyphs">PO BOX 330008</text>
<text x="123.6" y="1250.8" font-family="'Liberation Mono', monospace" font-size="18" fill="#111" font-weight="bold" textLength="275.0" lengthAdjust="spacingAndGlyphs">MURFREESBORO TN 37133-0008</text>
<text x="123.6" y="1291.4" font-family="'Liberation Mono', monospace" font-size="18" fill="#8cc63f" font-weight="bold" textLength="190.0" lengthAdjust="spacingAndGlyphs">STATEMENT ENCLOSED</text>
<path d="M146.30,1326h2.40v61h-2.40zM149.80,1326h3.40v61h-3.40zM155.50,1326h5.50v61h-5.50zM162.10,1326h4.60v61h-4.60zM167.80,1326h3.40v61h-3.40zM172.80,1326h4.60v61h-4.60zM178.50,1326h2.40v61h-2.40zM183.20,1326h4.60v61h-4.60zM190.10,1326h3.40v61h-3.40zM194.60,1326h2.40v61h-2.40zM198.10,1326h4.60v61h-4.60zM205.00,1326h5.50v61h-5.50zM211.60,1326h5.50v61h-5.50zM218.20,1326h2.40v61h-2.40zM221.70,1326h3.40v61h-3.40zM226.20,1326h3.40v61h-3.40zM231.90,1326h4.60v61h-4.60zM238.80,1326h5.50v61h-5.50zM246.60,1326h3.40v61h-3.40zM252.30,1326h2.40v61h-2.40zM256.30,1326h1.40v61h-1.40zM258.80,1326h2.40v61h-2.40zM263.50,1326h2.40v61h-2.40zM267.50,1326h5.50v61h-5.50zM275.30,1326h5.50v61h-5.50zM282.40,1326h3.40v61h-3.40zM288.10,1326h3.70v61h-3.70z" fill="#111"/>
<path d="M471.00,1326h4.60v61h-4.60zM477.20,1326h5.50v61h-5.50zM484.30,1326h5.50v61h-5.50zM490.90,1326h3.40v61h-3.40zM495.40,1326h5.50v61h-5.50zM502.00,1326h2.40v61h-2.40zM505.50,1326h3.40v61h-3.40zM511.20,1326h2.40v61h-2.40zM515.90,1326h4.60v61h-4.60zM521.60,1326h4.60v61h-4.60zM527.30,1326h1.40v61h-1.40zM529.80,1326h3.40v61h-3.40zM534.80,1326h2.40v61h-2.40zM539.50,1326h2.40v61h-2.40zM543.00,1326h2.40v61h-2.40zM547.70,1326h2.40v61h-2.40zM551.20,1326h1.40v61h-1.40zM553.70,1326h2.40v61h-2.40zM557.20,1326h2.40v61h-2.40zM560.70,1326h3.40v61h-3.40zM565.70,1326h2.40v61h-2.40zM569.20,1326h2.40v61h-2.40zM572.70,1326h3.40v61h-3.40zM577.70,1326h1.40v61h-1.40zM580.70,1326h3.40v61h-3.40zM585.20,1326h2.40v61h-2.40zM589.20,1326h1.40v61h-1.40zM592.20,1326h3.40v61h-3.40zM596.70,1326h4.60v61h-4.60zM602.90,1326h1.40v61h-1.40zM605.90,1326h3.40v61h-3.40zM610.90,1326h3.40v61h-3.40zM615.90,1326h2.40v61h-2.40zM620.60,1326h3.40v61h-3.40zM625.10,1326h1.40v61h-1.40zM628.10,1326h1.40v61h-1.40zM631.10,1326h3.40v61h-3.40zM635.60,1326h4.00v61h-4.00z" fill="#111"/>
<text x="510.0" y="1461.5" font-family="'Liberation Mono', monospace" font-size="18" fill="#111" font-weight="bold" textLength="42.0" lengthAdjust="spacingAndGlyphs">1 46</text>
<text x="128.8" y="1476.7" font-family="'Liberation Mono', monospace" font-size="17.6" fill="#111" font-weight="bold" textLength="84.0" lengthAdjust="spacingAndGlyphs">JOHN DOE</text>
<text x="128.8" y="1493.4" font-family="'Liberation Mono', monospace" font-size="17.6" fill="#111" font-weight="bold" textLength="147.0" lengthAdjust="spacingAndGlyphs">123 ANY STREET</text>
<text x="128.8" y="1509.4" font-family="'Liberation Mono', monospace" font-size="17.6" fill="#111" font-weight="bold" textLength="263.7" lengthAdjust="spacingAndGlyphs">MUFREESBORO TN 37133-0000</text>
<path d="M134.40,1550h2.4v13h-2.4zM140.55,1558h2.4v13h-2.4zM146.70,1550h2.4v13h-2.4zM152.85,1550h2.4v21h-2.4zM159.00,1550h2.4v13h-2.4zM165.15,1558h2.4v13h-2.4zM171.30,1550h2.4v21h-2.4zM177.45,1550h2.4v21h-2.4zM183.60,1550h2.4v13h-2.4zM189.75,1550h2.4v21h-2.4zM195.90,1550h2.4v13h-2.4zM202.05,1550h2.4v13h-2.4zM208.20,1550h2.4v21h-2.4zM214.35,1550h2.4v21h-2.4zM220.50,1558h2.4v13h-2.4zM226.65,1550h2.4v21h-2.4zM232.80,1550h2.4v21h-2.4zM238.95,1550h2.4v21h-2.4zM245.10,1558h2.4v13h-2.4zM251.25,1550h2.4v13h-2.4zM257.40,1558h2.4v13h-2.4zM263.55,1558h2.4v13h-2.4zM269.70,1550h2.4v21h-2.4zM275.85,1550h2.4v13h-2.4zM282.00,1550h2.4v13h-2.4zM288.15,1550h2.4v21h-2.4zM294.30,1550h2.4v21h-2.4zM300.45,1550h2.4v21h-2.4zM306.60,1550h2.4v21h-2.4zM312.75,1558h2.4v13h-2.4zM318.90,1558h2.4v13h-2.4zM325.05,1550h2.4v13h-2.4zM331.20,1550h2.4v21h-2.4zM337.35,1550h2.4v21h-2.4zM343.50,1558h2.4v13h-2.4zM349.65,1558h2.4v13h-2.4zM355.80,1550h2.4v21h-2.4zM361.95,1550h2.4v13h-2.4zM368.10,1550h2.4v21h-2.4zM374.25,1550h2.4v21h-2.4zM380.40,1550h2.4v21h-2.4zM386.55,1550h2.4v13h-2.4zM392.70,1550h2.4v21h-2.4zM398.85,1550h2.4v21h-2.4zM405.00,1550h2.4v21h-2.4zM411.15,1550h2.4v21h-2.4zM417.30,1558h2.4v13h-2.4zM423.45,1558h2.4v13h-2.4zM429.60,1550h2.4v21h-2.4zM435.75,1558h2.4v13h-2.4zM441.90,1558h2.4v13h-2.4zM448.05,1550h2.4v21h-2.4zM454.20,1550h2.4v21h-2.4zM460.35,1550h2.4v21h-2.4zM466.50,1550h2.4v13h-2.4zM472.65,1550h2.4v21h-2.4zM478.80,1558h2.4v13h-2.4zM484.95,1550h2.4v21h-2.4zM491.10,1550h2.4v13h-2.4zM497.25,1550h2.4v21h-2.4zM503.40,1558h2.4v13h-2.4zM509.55,1550h2.4v21h-2.4zM515.70,1558h2.4v13h-2.4z" fill="#111"/>
<line x1="713.0" y1="1200.0" x2="713.0" y2="1560.7" stroke="#555" stroke-width="1.5"/>
<text x="585.0" y="1613.0" font-family="'Liberation Mono', monospace" font-size="23.5" fill="#111" textLength="589.0" lengthAdjust="spacingAndGlyphs">450199999999999000000000000014900050620173</text>
<rect x="2185.2" y="67.3" width="1254.4" height="1648.5" fill="#ffffff" stroke="#1c1c1c" stroke-width="3.6"/>
<text x="2706.0" y="101.4" font-family="'Liberation Sans', sans-serif" font-size="31" fill="#231f20" textLength="214.0" lengthAdjust="spacingAndGlyphs">BACK OF BILL</text>
<use href="#mtlogo" transform="translate(2142.99,-28.89) scale(1.043)"/>
<text x="3079.5" y="146.9" font-family="'Liberation Sans', sans-serif" font-size="18.5" fill="#111" font-weight="bold" textLength="275.5" lengthAdjust="spacingAndGlyphs">Member Owned | Not-For-Profit</text>
<text x="2930.0" y="167.4" font-family="'Liberation Sans', sans-serif" font-size="15.2" fill="#111" textLength="425.0" lengthAdjust="spacingAndGlyphs"><tspan font-weight="bold">Member Service: </tspan><tspan font-weight="normal">1-877-777-9020 </tspan><tspan font-weight="bold">Auto Pay System: </tspan><tspan font-weight="normal">1-877-777-0215</tspan></text>
<text x="2859.0" y="193.3" font-family="'Liberation Sans', sans-serif" font-size="15.2" fill="#111" textLength="496.0" lengthAdjust="spacingAndGlyphs"><tspan font-weight="bold">Outage: </tspan><tspan font-weight="normal">1-877-777-9111 </tspan><tspan font-weight="bold">Office Hours: </tspan><tspan font-weight="normal">8 am - 4:30 pm M - F </tspan><tspan font-weight="bold">Internet: </tspan><tspan font-weight="normal">mtemc.com</tspan></text>
<path d="M2289.6,255.7 L3363.0,255.7 L3363.0,588.5 A27,27 0 0 1 3336.0,615.5 L2289.6,615.5 A27,27 0 0 1 2262.6,588.5 L2262.6,282.7 A27,27 0 0 1 2289.6,255.7 Z" fill="#e8f6fd" stroke="#3bb4e2" stroke-width="1.6"/>
<path d="M2853.2,210 L3364.6,210 L3364.6,307.4 L2853.2,307.4 A28,28 0 0 1 2825.2,279.4 L2825.2,238 A28,28 0 0 1 2853.2,210 Z" fill="#10b5ea"/>
<text x="2868.2" y="248.0" font-family="'Liberation Sans', sans-serif" font-size="26.5" fill="#fff" font-weight="bold" textLength="182.6" lengthAdjust="spacingAndGlyphs">Total Amount Due</text>
<text x="2888.1" y="282.7" font-family="'Liberation Sans', sans-serif" font-size="26.5" fill="#fff" font-weight="bold" textLength="142.8" lengthAdjust="spacingAndGlyphs">by 05/23/2017</text>
<text x="3145.9" y="270.0" font-family="'Liberation Sans', sans-serif" font-size="59.5" fill="#fff" font-weight="bold" textLength="173.7" lengthAdjust="spacingAndGlyphs" stroke="#fff" stroke-width="0.6" stroke-linejoin="round">$149.00</text>
<text x="3155.0" y="291.3" font-family="'Liberation Sans', sans-serif" font-size="15" fill="#fff" font-weight="bold" textLength="147.5" lengthAdjust="spacingAndGlyphs">AFTER DUE DATE: $155.68</text>
<text x="2277.5" y="283.0" font-family="'Liberation Sans', sans-serif" font-size="22.4" fill="#111" font-weight="bold" textLength="196.0" lengthAdjust="spacingAndGlyphs">Account Information</text>
<text x="2277.0" y="313.6" font-family="'Liberation Sans', sans-serif" font-size="19" fill="#111" font-weight="bold" textLength="139.3" lengthAdjust="spacingAndGlyphs">Account Number:</text>
<text x="2437.0" y="313.6" font-family="'Liberation Sans', sans-serif" font-size="19" fill="#111" textLength="105.0" lengthAdjust="spacingAndGlyphs">20 XXXX XXXX</text>
<text x="2277.0" y="335.6" font-family="'Liberation Sans', sans-serif" font-size="19" fill="#111" font-weight="bold" textLength="111.8" lengthAdjust="spacingAndGlyphs">Billing Period:</text>
<text x="2437.0" y="335.6" font-family="'Liberation Sans', sans-serif" font-size="19" fill="#111" textLength="284.3" lengthAdjust="spacingAndGlyphs">04/06/2017 - 05/08/2017 for 32 Days</text>
<text x="2277.0" y="362.3" font-family="'Liberation Sans', sans-serif" font-size="19" fill="#111" font-weight="bold" textLength="104.4" lengthAdjust="spacingAndGlyphs">Invoice Date:</text>
<text x="2437.0" y="362.3" font-family="'Liberation Sans', sans-serif" font-size="19" fill="#111" textLength="88.5" lengthAdjust="spacingAndGlyphs">05/06/2017</text>
<text x="2277.0" y="388.4" font-family="'Liberation Sans', sans-serif" font-size="19" fill="#111" font-weight="bold" textLength="122.8" lengthAdjust="spacingAndGlyphs">Phone Number:</text>
<text x="2437.0" y="383.4" font-family="'Liberation Sans', sans-serif" font-size="19" fill="#111" textLength="117.6" lengthAdjust="spacingAndGlyphs">(555) 555-5555</text>
<text x="2277.0" y="413.6" font-family="'Liberation Sans', sans-serif" font-size="19" fill="#111" font-weight="bold" textLength="135.2" lengthAdjust="spacingAndGlyphs">Service Address:</text>
<text x="2437.0" y="413.6" font-family="'Liberation Sans', sans-serif" font-size="19" fill="#111" textLength="125.0" lengthAdjust="spacingAndGlyphs">123 ANY STREET</text>
<text x="2437.0" y="438.4" font-family="'Liberation Sans', sans-serif" font-size="19" fill="#111" textLength="248.0" lengthAdjust="spacingAndGlyphs">MURFREESBORO TN 37133-0000</text>
<text x="2277.0" y="463.9" font-family="'Liberation Sans', sans-serif" font-size="19" fill="#111" font-weight="bold" textLength="41.2" lengthAdjust="spacingAndGlyphs">Rate:</text>
<text x="2437.0" y="463.9" font-family="'Liberation Sans', sans-serif" font-size="19" fill="#111" textLength="103.8" lengthAdjust="spacingAndGlyphs">Residential-22</text>
<text x="2277.0" y="489.5" font-family="'Liberation Sans', sans-serif" font-size="19" fill="#111" font-weight="bold" textLength="97.3" lengthAdjust="spacingAndGlyphs">Description:</text>
<text x="2437.0" y="489.5" font-family="'Liberation Sans', sans-serif" font-size="19" fill="#111" textLength="29.7" lengthAdjust="spacingAndGlyphs">HSE</text>
<text x="2277.0" y="514.7" font-family="'Liberation Sans', sans-serif" font-size="19" fill="#111" font-weight="bold" textLength="120.0" lengthAdjust="spacingAndGlyphs">Meter Number:</text>
<text x="2437.0" y="514.7" font-family="'Liberation Sans', sans-serif" font-size="19" fill="#111" textLength="57.7" lengthAdjust="spacingAndGlyphs">555555</text>
<text x="2277.0" y="540.3" font-family="'Liberation Sans', sans-serif" font-size="19" fill="#111" font-weight="bold" textLength="114.6" lengthAdjust="spacingAndGlyphs">Prior Reading:</text>
<text x="2437.0" y="540.3" font-family="'Liberation Sans', sans-serif" font-size="19" fill="#111" textLength="48.9" lengthAdjust="spacingAndGlyphs">25175</text>
<text x="2277.0" y="565.6" font-family="'Liberation Sans', sans-serif" font-size="19" fill="#111" font-weight="bold" textLength="137.4" lengthAdjust="spacingAndGlyphs">Present Reading:</text>
<text x="2437.0" y="565.6" font-family="'Liberation Sans', sans-serif" font-size="19" fill="#111" textLength="48.9" lengthAdjust="spacingAndGlyphs">26663</text>
<text x="2277.0" y="590.8" font-family="'Liberation Sans', sans-serif" font-size="19" fill="#111" font-weight="bold" textLength="94.0" lengthAdjust="spacingAndGlyphs">kWh Usage:</text>
<text x="2437.0" y="590.8" font-family="'Liberation Sans', sans-serif" font-size="19" fill="#111" textLength="39.0" lengthAdjust="spacingAndGlyphs">1488</text>
<line x1="2797.0" y1="395.0" x2="2797.0" y2="597.0" stroke="#333" stroke-width="1.5"/>
<text x="2811.0" y="334.9" font-family="'Liberation Sans', sans-serif" font-size="19.8" fill="#111" font-weight="bold" textLength="249.6" lengthAdjust="spacingAndGlyphs">Breakdown of Current Charges</text>
<text x="2811.0" y="360.8" font-family="'Liberation Sans', sans-serif" font-size="19.8" fill="#111" textLength="96.0" lengthAdjust="spacingAndGlyphs">Basic Service</text>
<text x="3294.3" y="360.8" font-family="'Liberation Sans', sans-serif" font-size="19.8" fill="#111" textLength="53.7" lengthAdjust="spacingAndGlyphs">$18.75</text>
<text x="2811.0" y="385.4" font-family="'Liberation Sans', sans-serif" font-size="19.8" fill="#111" textLength="94.5" lengthAdjust="spacingAndGlyphs">Consumption</text>
<text x="3284.8" y="385.4" font-family="'Liberation Sans', sans-serif" font-size="19.8" fill="#111" textLength="63.2" lengthAdjust="spacingAndGlyphs">$129.52</text>
<text x="2811.0" y="410.7" font-family="'Liberation Sans', sans-serif" font-size="19.8" fill="#111" textLength="115.0" lengthAdjust="spacingAndGlyphs">Sharing Change</text>
<text x="3303.8" y="410.7" font-family="'Liberation Sans', sans-serif" font-size="19.8" fill="#111" textLength="44.2" lengthAdjust="spacingAndGlyphs">$0.73</text>
<text x="2811.0" y="435.4" font-family="'Liberation Sans', sans-serif" font-size="19.8" fill="#111" font-weight="bold" textLength="173.8" lengthAdjust="spacingAndGlyphs">Total Current Amount</text>
<text x="3284.8" y="435.4" font-family="'Liberation Sans', sans-serif" font-size="19.8" fill="#111" font-weight="bold" textLength="63.2" lengthAdjust="spacingAndGlyphs">$149.00</text>
<text x="2811.0" y="461.3" font-family="'Liberation Sans', sans-serif" font-size="19.8" fill="#111" font-weight="bold" textLength="136.5" lengthAdjust="spacingAndGlyphs">Balance Forward</text>
<text x="3303.8" y="461.3" font-family="'Liberation Sans', sans-serif" font-size="19.8" fill="#111" font-weight="bold" textLength="44.2" lengthAdjust="spacingAndGlyphs">$0.00</text>
<text x="2811.0" y="486.5" font-family="'Liberation Sans', sans-serif" font-size="19.8" fill="#111" font-weight="bold" textLength="310.9" lengthAdjust="spacingAndGlyphs">Total Current Amount for this Location</text>
<text x="3284.8" y="486.5" font-family="'Liberation Sans', sans-serif" font-size="19.8" fill="#111" font-weight="bold" textLength="63.2" lengthAdjust="spacingAndGlyphs">$149.00</text>
<line x1="2271.0" y1="629.5" x2="3371.0" y2="629.5" stroke="#666" stroke-width="1.6"/>
<line x1="2271.0" y1="802.4" x2="3371.0" y2="802.4" stroke="#666" stroke-width="1.6"/>
<circle cx="2331.0" cy="716.0" r="58.4" fill="#eaf3dc" stroke="#8dc63f" stroke-width="2"/>
<path d="M2291.2,712.2 L2320.6,749.6 L2368.3,686.5" fill="none" stroke="#86c23c" stroke-width="15" stroke-linejoin="miter"/>
<text x="2425.8" y="684.0" font-family="'Liberation Sans', sans-serif" font-size="24.5" fill="#8cc63f" font-weight="bold" textLength="319.8" lengthAdjust="spacingAndGlyphs" stroke="#8cc63f" stroke-width="0.5" stroke-linejoin="round">Online Home Energy Evaluation</text>
<text x="2425.8" y="717.8" font-family="'Liberation Sans', sans-serif" font-size="20.5" fill="#333" textLength="886.0" lengthAdjust="spacingAndGlyphs">Take our online energy evaluation to improve your home’s energy efficiency and learn how to save</text>
<text x="2425.8" y="742.6" font-family="'Liberation Sans', sans-serif" font-size="20.5" fill="#333" textLength="920.5" lengthAdjust="spacingAndGlyphs">money and live comfortably. Visit www.mtemc.com and find the evaluation under the “My Residence”</text>
<text x="2425.8" y="767.0" font-family="'Liberation Sans', sans-serif" font-size="20.5" fill="#333" textLength="160.0" lengthAdjust="spacingAndGlyphs">drop down menu.</text>
<text x="2268.6" y="885.0" font-family="'Liberation Sans', sans-serif" font-size="32" fill="#333" font-weight="bold" textLength="447.5" lengthAdjust="spacingAndGlyphs" stroke="#333" stroke-width="0.9" stroke-linejoin="round">Sign Up Today For MTEMC Services</text>
<text x="2365.0" y="945.0" font-family="'Liberation Sans', sans-serif" font-size="22.4" fill="#333" font-weight="bold" textLength="52.1" lengthAdjust="spacingAndGlyphs">E-bill</text>
<text x="2365.0" y="973.6" font-family="'Liberation Sans', sans-serif" font-size="19.5" fill="#333" textLength="381.4" lengthAdjust="spacingAndGlyphs">Don’t want a paper copy of your bill?</text>
<text x="2365.0" y="1001.4" font-family="'Liberation Sans', sans-serif" font-size="19.5" fill="#333" textLength="358.2" lengthAdjust="spacingAndGlyphs">Receive your bill via email. Sign up</text>
<text x="2365.0" y="1029.0" font-family="'Liberation Sans', sans-serif" font-size="19.5" fill="#333" textLength="199.3" lengthAdjust="spacingAndGlyphs">on myMTEMC.com</text>
<text x="2365.0" y="1087.9" font-family="'Liberation Sans', sans-serif" font-size="22.4" fill="#333" font-weight="bold" textLength="166.0" lengthAdjust="spacingAndGlyphs">Energy Use Data</text>
<text x="2365.0" y="1115.7" font-family="'Liberation Sans', sans-serif" font-size="19.5" fill="#333" textLength="402.0" lengthAdjust="spacingAndGlyphs">See your energy use information in real</text>
<text x="2365.0" y="1143.2" font-family="'Liberation Sans', sans-serif" font-size="19.5" fill="#333" textLength="251.0" lengthAdjust="spacingAndGlyphs">time on myMTEMC.com</text>
<text x="2365.0" y="1209.3" font-family="'Liberation Sans', sans-serif" font-size="22.4" fill="#333" font-weight="bold" textLength="232.0" lengthAdjust="spacingAndGlyphs">Phone Number Change</text>
<text x="2365.0" y="1237.0" font-family="'Liberation Sans', sans-serif" font-size="19.5" fill="#333" textLength="385.0" lengthAdjust="spacingAndGlyphs">Got a new number? No problem. You</text>
<text x="2365.0" y="1265.7" font-family="'Liberation Sans', sans-serif" font-size="19.5" fill="#333" textLength="358.0" lengthAdjust="spacingAndGlyphs">can update your number by calling</text>
<text x="2365.0" y="1293.0" font-family="'Liberation Sans', sans-serif" font-size="19.5" fill="#333" textLength="403.6" lengthAdjust="spacingAndGlyphs">(877) 777-9020 or updating your profile</text>
<text x="2365.0" y="1320.0" font-family="'Liberation Sans', sans-serif" font-size="19.5" fill="#333" textLength="199.3" lengthAdjust="spacingAndGlyphs">on myMTEMC.com</text>
<line x1="2267.9" y1="1045.7" x2="2337.5" y2="1045.7" stroke="#555" stroke-width="1.3"/>
<line x1="2267.9" y1="1167.0" x2="2337.5" y2="1167.0" stroke="#555" stroke-width="1.3"/>
<path d="M2302.5,937.5 c-10,0 -18,7 -18,17 l0,22 c0,10 8,17 18,17 c10,0 18,-7 18,-17 l0,-22 c0,-10 -8,-17 -18,-17 z" fill="#c7e6f5" stroke="#333" stroke-width="3"/>
<line x1="2285.0" y1="958.5" x2="2320.0" y2="958.5" stroke="#333" stroke-width="2.6"/>
<line x1="2302.5" y1="943.0" x2="2302.5" y2="953.0" stroke="#333" stroke-width="2.6"/>
<rect x="2273.5" y="1101.0" width="14.0" height="24.0" fill="#c7e6f5" stroke="#333" stroke-width="3"/>
<rect x="2296.0" y="1082.5" width="14.0" height="42.5" fill="#c7e6f5" stroke="#333" stroke-width="3"/>
<rect x="2318.5" y="1111.0" width="14.0" height="14.0" fill="#c7e6f5" stroke="#333" stroke-width="3"/>
<line x1="2272.0" y1="1134.0" x2="2334.0" y2="1134.0" stroke="#333" stroke-width="3.2" stroke-linecap="round"/>
<path d="M2282,1223 c-6,2 -9,6 -8,12 c2,10 10,22 20,32 c10,10 20,15 28,13 c4,-1 8,-4 9,-8 l-11,-11 c-3,3 -6,5 -9,4 c-6,-3 -14,-11 -18,-18 c-1,-3 1,-6 4,-9 z" fill="#c7e6f5" stroke="#333" stroke-width="3" stroke-linejoin="round"/>
<text x="2818.7" y="856.9" font-family="'Liberation Sans', sans-serif" font-size="22" fill="#333" font-weight="bold" textLength="358.6" lengthAdjust="spacingAndGlyphs" stroke="#333" stroke-width="0.6" stroke-linejoin="round">Special Value Section For Our Members</text>
<rect x="2819.7" y="876.9" width="492.5" height="175.6" fill="none" stroke="#444" stroke-width="2" stroke-dasharray="7 5"/>
<text x="2864.3" y="918.2" font-family="'Liberation Sans', sans-serif" font-size="26.5" fill="#2aabe0" textLength="402.4" lengthAdjust="spacingAndGlyphs">MTEMC members receive a 20%</text>
<text x="2850.1" y="951.4" font-family="'Liberation Sans', sans-serif" font-size="26.5" fill="#2aabe0" textLength="430.8" lengthAdjust="spacingAndGlyphs">discount on all energy efficient light</text>
<text x="2845.8" y="984.7" font-family="'Liberation Sans', sans-serif" font-size="26.5" fill="#2aabe0" textLength="439.3" lengthAdjust="spacingAndGlyphs">bulbs at participating Lowe’s stores.</text>
<text x="2921.0" y="1014.9" font-family="'Liberation Sans', sans-serif" font-size="18.5" fill="#333" textLength="289.0" lengthAdjust="spacingAndGlyphs">Present this coupon at check out to</text>
<text x="2976.4" y="1036.6" font-family="'Liberation Sans', sans-serif" font-size="18.5" fill="#333" textLength="178.2" lengthAdjust="spacingAndGlyphs">receive your discount.</text>
<text x="2818.7" y="1119.0" font-family="'Liberation Sans', sans-serif" font-size="23" fill="#333" font-weight="bold" textLength="312.7" lengthAdjust="spacingAndGlyphs" stroke="#333" stroke-width="0.6" stroke-linejoin="round">More Information Available Online</text>
<text x="2818.7" y="1149.3" font-family="'Liberation Sans', sans-serif" font-size="18.5" fill="#333" textLength="239.9" lengthAdjust="spacingAndGlyphs">Visit My Account to view your</text>
<text x="2818.7" y="1172.0" font-family="'Liberation Sans', sans-serif" font-size="18.5" fill="#333" textLength="290.0" lengthAdjust="spacingAndGlyphs">energy use any way you like: hourly,</text>
<text x="2818.7" y="1193.0" font-family="'Liberation Sans', sans-serif" font-size="18.5" fill="#333" textLength="246.8" lengthAdjust="spacingAndGlyphs">daily, weekly, monthly or other.</text>
<text x="2818.7" y="1230.9" font-family="'Liberation Sans', sans-serif" font-size="18.5" fill="#333" font-weight="bold" textLength="126.0" lengthAdjust="spacingAndGlyphs">www.mtemc.com</text>
<path d="M3148,1135 L3262,1135 Q3266,1135 3266,1139 L3266,1205 L3144,1205 L3144,1139 Q3144,1135 3148,1135 Z" fill="#3a3d42"/>
<rect x="3149.0" y="1140.0" width="112.0" height="60.0" fill="#f4f7fa"/>
<rect x="3149.0" y="1140.0" width="112.0" height="6.0" fill="#ffffff"/>
<rect x="3149.0" y="1146.0" width="112.0" height="5.0" fill="#2b8ad0"/>
<rect x="3152.0" y="1153.0" width="8.0" height="45.0" fill="#e3ecf3"/>
<rect x="3163.0" y="1158.0" width="16.0" height="14.0" fill="#9fb4c4"/>
<rect x="3183.0" y="1156.0" width="24.0" height="3.0" fill="#9aa"/>
<rect x="3183.0" y="1162.0" width="30.0" height="2.0" fill="#bbb"/>
<rect x="3215.0" y="1155.0" width="42.0" height="5.0" fill="#f2a341"/>
<rect x="3215.0" y="1163.0" width="42.0" height="4.0" fill="#a6cf6a"/>
<rect x="3218.0" y="1170.0" width="28.0" height="20.0" fill="#5a8fc8"/>
<path d="M3114,1210 L3144,1205 L3266,1205 L3290,1212 L3285,1220 L3120,1220 Z" fill="#c9cdd2" stroke="#8e9399" stroke-width="1"/>
<rect x="3140.0" y="1207.0" width="120.0" height="6.0" fill="#a9aeb4"/>
<path d="M3262,1148 L3308,1148 Q3312,1148 3312,1152 L3312,1212 Q3312,1215 3308,1215 L3262,1215 Z" fill="#33363b"/>
<rect x="3266.0" y="1153.0" width="42.0" height="57.0" fill="#f4f7fa"/>
<rect x="3266.0" y="1153.0" width="42.0" height="5.0" fill="#2b8ad0"/>
<circle cx="3273.0" cy="1166.0" r="2.6" fill="#3e86c6"/>
<circle cx="3286.0" cy="1166.0" r="2.6" fill="#6bb34d"/>
<circle cx="3299.0" cy="1166.0" r="2.6" fill="#f0a33c"/>
<circle cx="3273.0" cy="1178.0" r="2.6" fill="#6bb34d"/>
<circle cx="3286.0" cy="1178.0" r="2.6" fill="#f0a33c"/>
<circle cx="3299.0" cy="1178.0" r="2.6" fill="#e05252"/>
<circle cx="3273.0" cy="1190.0" r="2.6" fill="#f0a33c"/>
<circle cx="3286.0" cy="1190.0" r="2.6" fill="#e05252"/>
<circle cx="3299.0" cy="1190.0" r="2.6" fill="#3e86c6"/>
<circle cx="3273.0" cy="1202.0" r="2.6" fill="#e05252"/>
<circle cx="3286.0" cy="1202.0" r="2.6" fill="#3e86c6"/>
<circle cx="3299.0" cy="1202.0" r="2.6" fill="#6bb34d"/>
<path d="M3248,1170 L3270,1170 Q3274,1170 3274,1174 L3274,1222 Q3274,1226 3270,1226 L3248,1226 Q3244,1226 3244,1222 L3244,1174 Q3244,1170 3248,1170 Z" fill="#2d3035"/>
<rect x="3247.0" y="1176.0" width="24.0" height="42.0" fill="#f2f6f9"/>
<rect x="3247.0" y="1176.0" width="24.0" height="4.0" fill="#2b8ad0"/>
<rect x="3247.0" y="1214.0" width="24.0" height="4.0" fill="#2b8ad0"/>
<circle cx="3253.0" cy="1186.0" r="2.0" fill="#3e86c6"/>
<circle cx="3263.0" cy="1186.0" r="2.0" fill="#e0874a"/>
<circle cx="3253.0" cy="1194.0" r="2.0" fill="#3e86c6"/>
<circle cx="3263.0" cy="1194.0" r="2.0" fill="#e0874a"/>
<circle cx="3253.0" cy="1202.0" r="2.0" fill="#3e86c6"/>
<circle cx="3263.0" cy="1202.0" r="2.0" fill="#e0874a"/>
<circle cx="3253.0" cy="1210.0" r="2.0" fill="#3e86c6"/>
<circle cx="3263.0" cy="1210.0" r="2.0" fill="#e0874a"/>
<text x="2263.4" y="1507.0" font-family="'Liberation Sans', sans-serif" font-size="26" fill="#111" font-weight="bold" textLength="258.4" lengthAdjust="spacingAndGlyphs">Other Ways to Pay Your Bill</text>
<line x1="2541.6" y1="1497.0" x2="3361.0" y2="1497.0" stroke="#333" stroke-width="1.6"/>
<rect x="2265.4" y="1563.0" width="57.0" height="56.5" fill="#8cc63f" rx="9"/>
<rect x="2556.5" y="1563.0" width="57.0" height="56.5" fill="#8cc63f" rx="9"/>
<rect x="2815.4" y="1563.0" width="57.0" height="56.5" fill="#8cc63f" rx="9"/>
<rect x="3089.7" y="1563.0" width="57.0" height="56.5" fill="#8cc63f" rx="9"/>
<rect x="2276.8" y="1576.3" width="34.0" height="22.0" fill="none" stroke="#fff" stroke-width="3.4"/>
<rect x="2290.3" y="1599.5" width="7.0" height="4.5" fill="#fff"/>
<rect x="2283.3" y="1603.6" width="21.0" height="3.2" fill="#fff"/>
<rect x="2574.5" y="1574.5" width="21.0" height="35.0" fill="none" stroke="#fff" stroke-width="3.2" rx="3"/>
<rect x="2579.0" y="1579.0" width="12.0" height="3.0" fill="#fff"/>
<circle cx="2585.0" cy="1604.5" r="1.8" fill="#fff"/>
<path d="M2830,1578 c-4,1 -6,4 -5,8 c2,8 8,16 14,22 c7,6 14,9 20,8 c3,-1 5,-3 6,-6 l-7,-8 c-2,2 -4,3 -6,3 c-5,-2 -10,-8 -13,-13 c-1,-2 0,-4 2,-6 z" fill="#fff"/>
<circle cx="3118.0" cy="1579.5" r="8.8" fill="#fff"/>
<path d="M3099,1611 L3099,1604 Q3099,1593 3110,1593 L3126,1593 Q3137,1593 3137,1604 L3137,1611 Z" fill="#fff"/>
<text x="2331.2" y="1577.3" font-family="'Liberation Sans', sans-serif" font-size="21.5" fill="#111" font-weight="bold" textLength="61.9" lengthAdjust="spacingAndGlyphs">Online</text>
<text x="2331.2" y="1598.6" font-family="'Liberation Sans', sans-serif" font-size="17" fill="#111" textLength="101.5" lengthAdjust="spacingAndGlyphs">Pay your bill at</text>
<text x="2331.2" y="1618.4" font-family="'Liberation Sans', sans-serif" font-size="17" fill="#111" textLength="124.8" lengthAdjust="spacingAndGlyphs">www.mtemc.com</text>
<text x="2623.3" y="1577.3" font-family="'Liberation Sans', sans-serif" font-size="21.5" fill="#111" font-weight="bold" textLength="60.9" lengthAdjust="spacingAndGlyphs">Phone</text>
<text x="2623.3" y="1598.6" font-family="'Liberation Sans', sans-serif" font-size="17" fill="#111" textLength="139.6" lengthAdjust="spacingAndGlyphs">Call (877) 777-0215</text>
<text x="2623.3" y="1618.4" font-family="'Liberation Sans', sans-serif" font-size="17" fill="#111" textLength="113.9" lengthAdjust="spacingAndGlyphs">to speak with us</text>
<text x="2882.3" y="1577.3" font-family="'Liberation Sans', sans-serif" font-size="21.5" fill="#111" font-weight="bold" textLength="108.9" lengthAdjust="spacingAndGlyphs">Mobile App</text>
<text x="2882.3" y="1598.6" font-family="'Liberation Sans', sans-serif" font-size="17" fill="#111" textLength="184.2" lengthAdjust="spacingAndGlyphs">Download myMTEMC app</text>
<text x="2882.3" y="1618.4" font-family="'Liberation Sans', sans-serif" font-size="17" fill="#111" textLength="86.1" lengthAdjust="spacingAndGlyphs">on iTunes or</text>
<text x="2882.3" y="1637.2" font-family="'Liberation Sans', sans-serif" font-size="17" fill="#111" textLength="125.7" lengthAdjust="spacingAndGlyphs">Google Play Store</text>
<text x="3157.0" y="1577.3" font-family="'Liberation Sans', sans-serif" font-size="21.5" fill="#111" font-weight="bold" textLength="94.0" lengthAdjust="spacingAndGlyphs">In-Person</text>
<text x="3157.0" y="1598.6" font-family="'Liberation Sans', sans-serif" font-size="17" fill="#111" textLength="175.2" lengthAdjust="spacingAndGlyphs">The closest office to your</text>
<text x="3157.0" y="1618.4" font-family="'Liberation Sans', sans-serif" font-size="17" fill="#111" textLength="184.2" lengthAdjust="spacingAndGlyphs">address is: Franklin Office,</text>
<text x="3157.0" y="1637.2" font-family="'Liberation Sans', sans-serif" font-size="17" fill="#111" textLength="176.7" lengthAdjust="spacingAndGlyphs">2156 Edward Curd Lane,</text>
<text x="3157.0" y="1656.6" font-family="'Liberation Sans', sans-serif" font-size="17" fill="#111" textLength="136.1" lengthAdjust="spacingAndGlyphs">Franklin, TN 37067.</text>
<path d="M1105.0,280.0 L1208.6,280.0 L1208.6,179.3 L1380.0,179.3" fill="none" stroke="#7f66ad" stroke-width="8.4" stroke-linejoin="miter" stroke-linecap="butt"/>
<path d="M189.6,426.5 L1380.0,426.5" fill="none" stroke="#7f66ad" stroke-width="8.4" stroke-linejoin="miter" stroke-linecap="butt"/>
<path d="M426.4,516.3 L426.4,718.0 L1380.0,718.0" fill="none" stroke="#7f66ad" stroke-width="8.4" stroke-linejoin="miter" stroke-linecap="butt"/>
<path d="M1131.0,483.0 L1184.7,483.0 L1184.7,1034.0 L1380.0,1034.0" fill="none" stroke="#7f66ad" stroke-width="8.4" stroke-linejoin="miter" stroke-linecap="butt"/>
<path d="M511.4,894.2 L511.4,1292.2 L1380.0,1292.2" fill="none" stroke="#7f66ad" stroke-width="8.4" stroke-linejoin="miter" stroke-linecap="butt"/>
<path d="M1137.0,907.7 L1137.0,1515.2 L1380.0,1515.2" fill="none" stroke="#7f66ad" stroke-width="8.4" stroke-linejoin="miter" stroke-linecap="butt"/>
<path d="M765.4,1359.5 L420.8,1359.5 L420.8,1760.0" fill="none" stroke="#7f66ad" stroke-width="8.4" stroke-linejoin="miter" stroke-linecap="butt"/>
<path d="M2238.5,283.0 L2238.5,1760.0" fill="none" stroke="#7f66ad" stroke-width="8.4" stroke-linejoin="miter" stroke-linecap="butt"/>
<path d="M3299.6,998.2 L3364.6,998.2 L3364.6,1760.0" fill="none" stroke="#7f66ad" stroke-width="8.4" stroke-linejoin="miter" stroke-linecap="butt"/>
<ellipse cx="1423.2" cy="140.6" rx="90.3" ry="92" fill="#1bb9ee"/>
<path d="M1412.5,129.8 L1434.6,129.8 L1434.6,245 L1412.5,245 L1412.5,156.6 L1391.3,174.2 L1379.1,159.5 Z" fill="#ffffff"/>
<ellipse cx="1423.2" cy="411.9" rx="90.3" ry="92" fill="#1bb9ee"/>
<path d="M235,570 C240,350 420,205 640,205 C870,205 1040,370 1040,590 C1040,700 990,790 920,850 L530,1195 L1050,1195 L1050,1400 L215,1400 L215,1150 L660,730 C740,650 780,610 780,560 C780,490 720,440 640,440 C550,440 490,500 490,585 Z" fill="#a2dff8" fill-rule="evenodd" transform="translate(1370,380) scale(0.089286)"/>
<ellipse cx="1423.2" cy="718.0" rx="90.3" ry="92" fill="#1bb9ee"/>
<path d="M200,450 C250,270 420,160 610,160 C850,160 1015,300 1015,470 C1015,600 940,700 830,750 C960,800 1045,900 1045,1020 C1045,1250 850,1400 600,1400 C400,1400 230,1290 190,1075 L460,1020 C475,1100 540,1150 620,1150 C715,1150 790,1090 790,1010 C790,930 720,870 620,870 L495,870 L495,640 L620,640 C700,640 770,590 770,515 C770,450 710,395 620,395 C550,395 485,440 470,505 Z" fill="#ffffff" fill-rule="evenodd" transform="translate(1370,690) scale(0.089286)"/>
<ellipse cx="1423.2" cy="1030.0" rx="90.3" ry="92" fill="#1bb9ee"/>
<path d="M620,205 L895,205 L895,945 L1045,945 L1045,1160 L895,1160 L895,1500 L650,1500 L650,1160 L130,1160 L130,940 Z M650,545 L395,940 L650,940 Z" fill="#a2dff8" fill-rule="evenodd" transform="translate(1370,1000) scale(0.089286)"/>
<ellipse cx="1423.2" cy="1281.3" rx="90.3" ry="92" fill="#1bb9ee"/>
<path d="M280,215 L1005,215 L1005,440 L530,440 L530,610 C570,605 600,605 640,605 C880,605 1050,780 1050,1010 C1050,1250 850,1450 600,1450 C400,1450 230,1330 190,1120 L455,1065 C475,1150 540,1200 620,1200 C720,1200 795,1120 795,1010 C795,905 720,835 620,835 C480,835 380,855 270,870 Z" fill="#ffffff" fill-rule="evenodd" transform="translate(1370,1250) scale(0.089286)"/>
<ellipse cx="1423.2" cy="1516.8" rx="90.3" ry="92" fill="#1bb9ee"/>
<path d="M570,170 L865,170 L612,578 C860,585 1050,750 1050,960 C1050,1210 850,1400 605,1400 C360,1400 160,1210 160,960 C160,850 200,760 250,680 Z M605,767 A190,190 0 1 0 605.1,767 Z" fill="#a2dff8" fill-rule="evenodd" transform="translate(1370,1490) scale(0.089286)"/>
<ellipse cx="418.2" cy="1827.3" rx="90.3" ry="92" fill="#1bb9ee"/>
<path d="M175,170 L1050,170 L1050,300 Q1040,420 990,500 L580,1400 L270,1400 L750,405 L175,405 Z" fill="#ffffff" fill-rule="evenodd" transform="translate(365,1800) scale(0.089286)"/>
<ellipse cx="2227.0" cy="1831.0" rx="90.3" ry="92" fill="#1bb9ee"/>
<path d="M600,190 C830,190 1000,330 1000,500 C1000,640 920,740 820,785 C950,840 1020,940 1020,1060 C1020,1280 830,1450 600,1450 C370,1450 180,1280 180,1060 C180,940 250,840 380,785 C280,740 200,640 200,500 C200,330 370,190 600,190 Z M600,425 A145,130 0 1 0 600.1,425 Z M600,890 A165,150 0 1 0 600.1,890 Z" fill="#a2dff8" fill-rule="evenodd" transform="translate(2175,1800) scale(0.089286)"/>
<ellipse cx="3366.9" cy="1820.1" rx="90.3" ry="92" fill="#1bb9ee"/>
<path d="M680,985 C400,985 170,790 170,540 C170,280 400,45 685,45 C970,45 1200,280 1200,540 C1200,680 1170,780 1120,870 L785,1400 L394,1400 Z M687,322 A218,218 0 1 0 687.1,322 Z" fill="#ffffff" fill-rule="evenodd" transform="translate(3310,1790) scale(0.089286)"/>
<circle cx="1105.0" cy="280.0" r="10.4" fill="#7a60ad"/>
<circle cx="1105.0" cy="280.0" r="7.3" fill="#b9a7e2"/>
<circle cx="1105.0" cy="280.0" r="5.5" fill="#ade2f9"/>
<circle cx="189.6" cy="426.5" r="10.4" fill="#7a60ad"/>
<circle cx="189.6" cy="426.5" r="7.3" fill="#b9a7e2"/>
<circle cx="189.6" cy="426.5" r="5.5" fill="#ade2f9"/>
<circle cx="426.4" cy="516.3" r="10.4" fill="#7a60ad"/>
<circle cx="426.4" cy="516.3" r="7.3" fill="#b9a7e2"/>
<circle cx="426.4" cy="516.3" r="5.5" fill="#ade2f9"/>
<circle cx="1131.0" cy="483.0" r="10.4" fill="#7a60ad"/>
<circle cx="1131.0" cy="483.0" r="7.3" fill="#b9a7e2"/>
<circle cx="1131.0" cy="483.0" r="5.5" fill="#8fd0a0"/>
<circle cx="511.4" cy="894.2" r="10.4" fill="#7a60ad"/>
<circle cx="511.4" cy="894.2" r="7.3" fill="#b9a7e2"/>
<circle cx="511.4" cy="894.2" r="5.5" fill="#ade2f9"/>
<circle cx="1137.0" cy="907.7" r="10.4" fill="#7a60ad"/>
<circle cx="1137.0" cy="907.7" r="7.3" fill="#b9a7e2"/>
<circle cx="1137.0" cy="907.7" r="5.5" fill="#2bb4e8"/>
<circle cx="765.4" cy="1359.5" r="10.4" fill="#7a60ad"/>
<circle cx="765.4" cy="1359.5" r="7.3" fill="#b9a7e2"/>
<circle cx="765.4" cy="1359.5" r="5.5" fill="#ade2f9"/>
<circle cx="2238.5" cy="283.0" r="10.4" fill="#7a60ad"/>
<circle cx="2238.5" cy="283.0" r="7.3" fill="#b9a7e2"/>
<circle cx="2238.5" cy="283.0" r="5.5" fill="#ade2f9"/>
<circle cx="3299.6" cy="998.2" r="10.4" fill="#7a60ad"/>
<circle cx="3299.6" cy="998.2" r="7.3" fill="#b9a7e2"/>
<circle cx="3299.6" cy="998.2" r="5.5" fill="#ade2f9"/>
</svg></body></html>
